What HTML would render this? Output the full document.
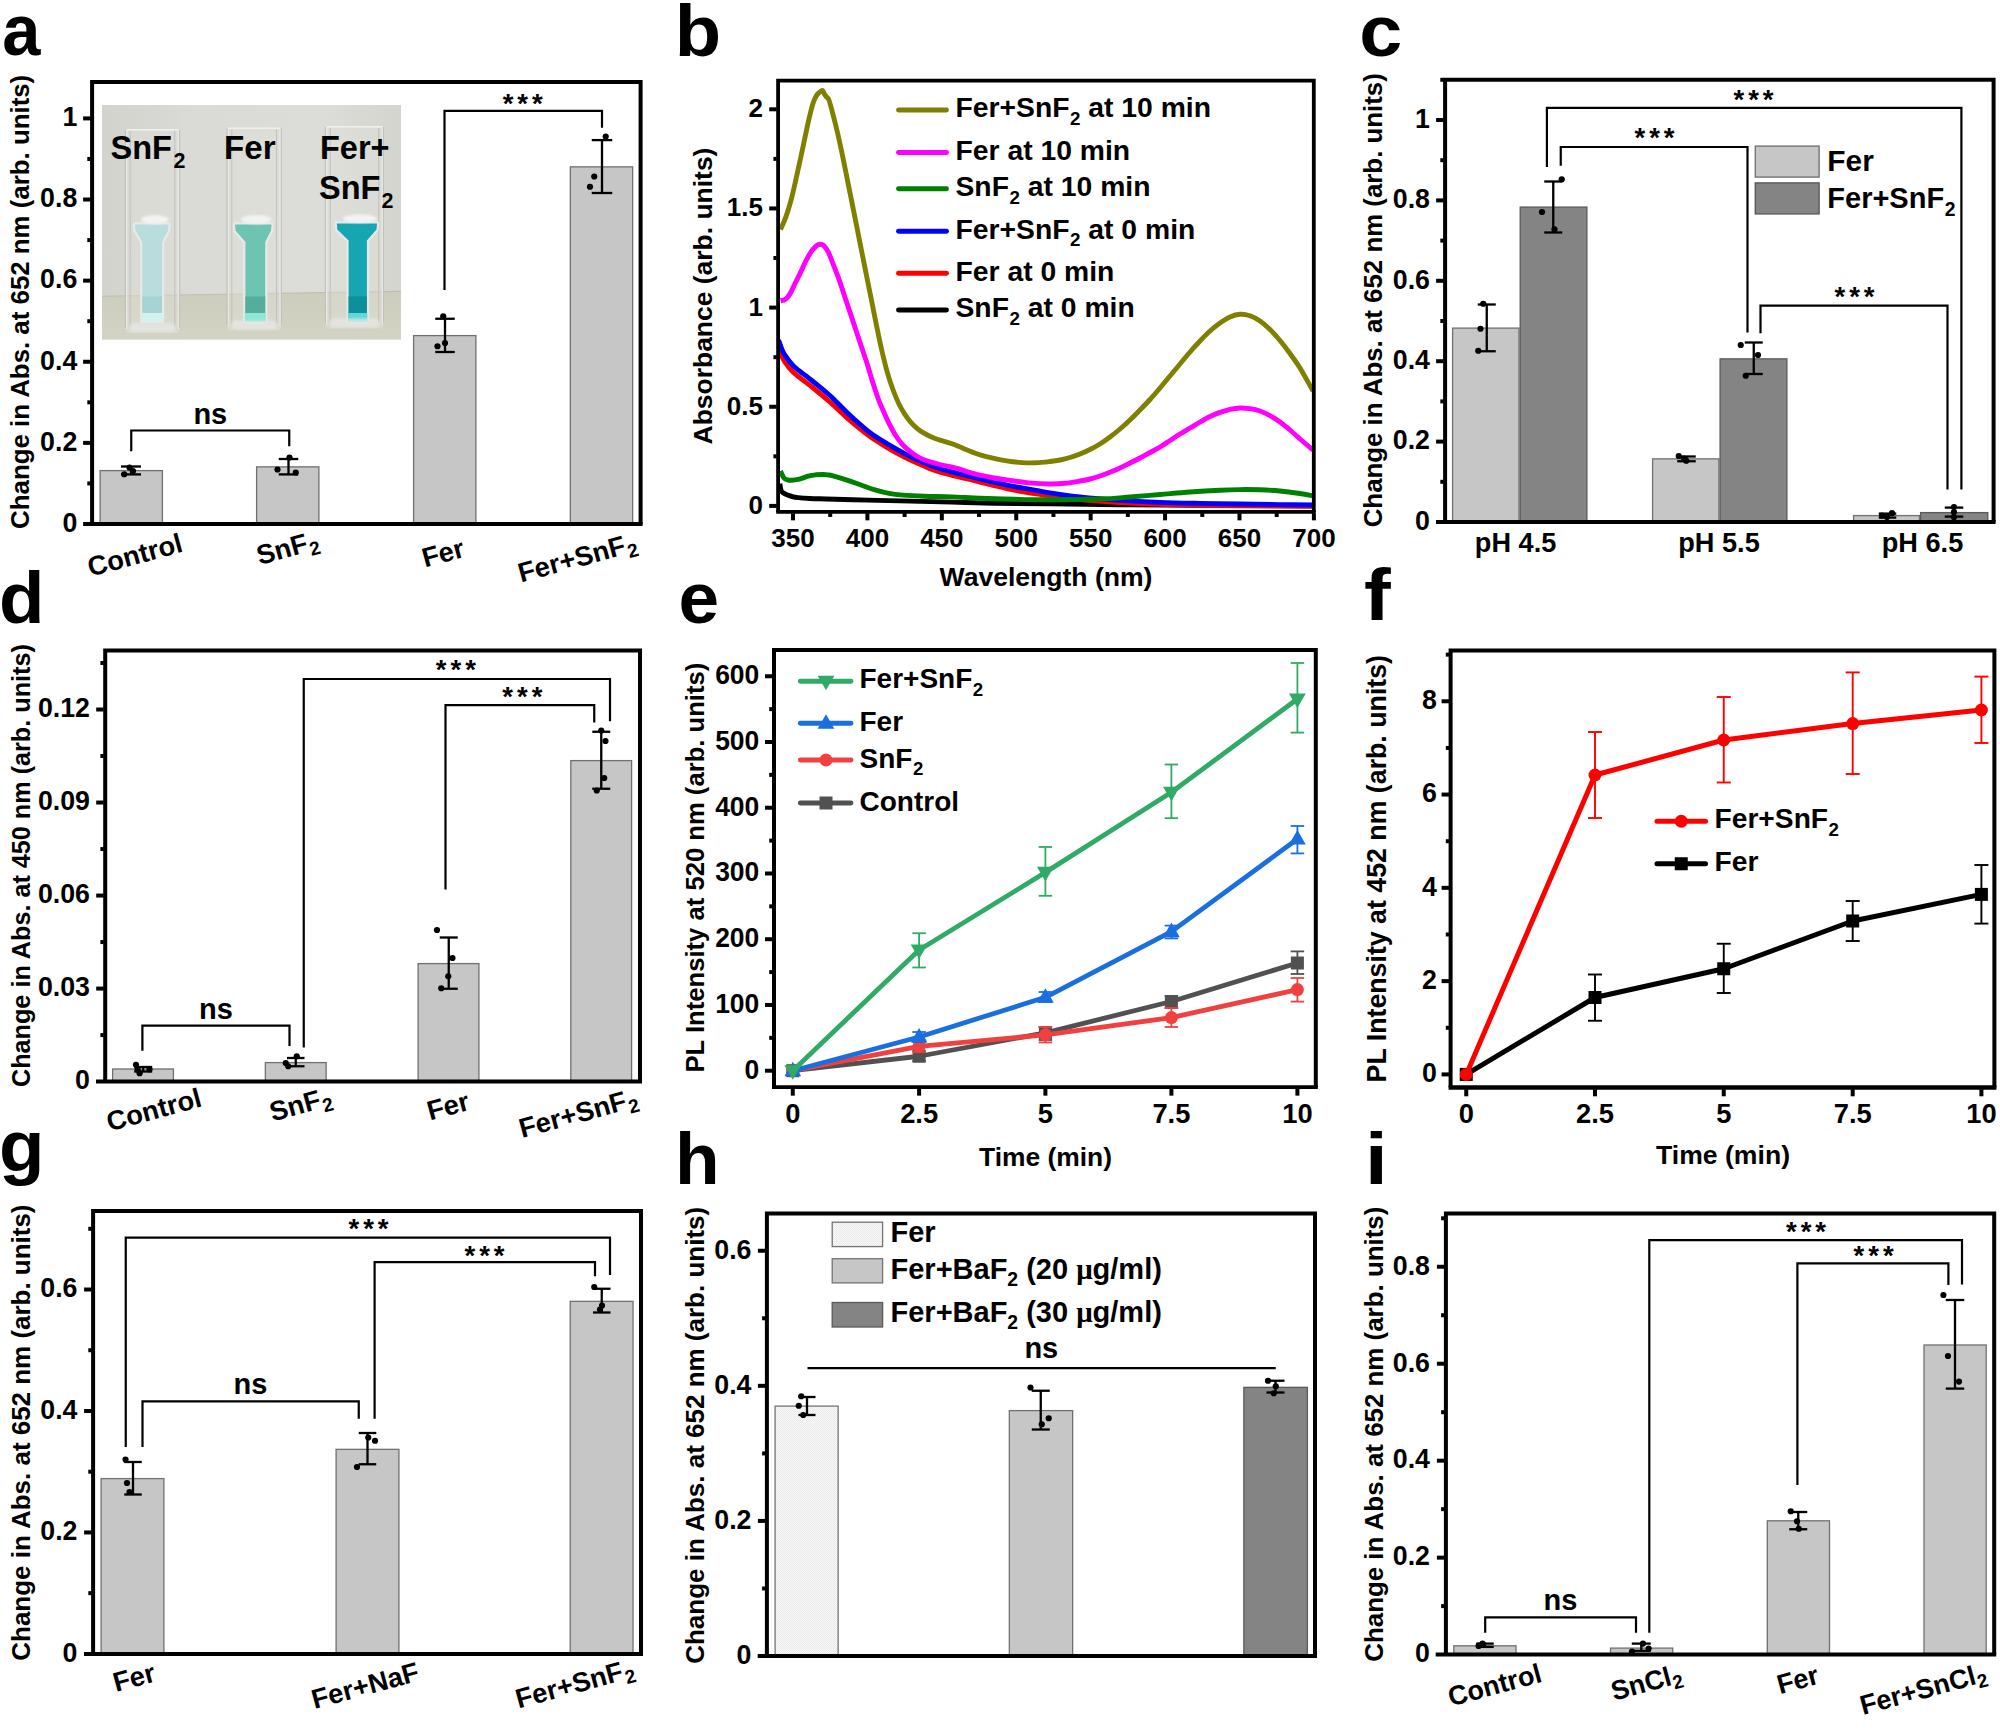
<!DOCTYPE html>
<html lang="en"><head><meta charset="utf-8"><title>Figure</title>
<style>html,body{margin:0;padding:0;background:#fff}svg{display:block}text{font-family:'Liberation Sans', sans-serif}</style>
</head><body>
<svg width="2000" height="1734" viewBox="0 0 2000 1734">
<rect width="2000" height="1734" fill="#fff"/>
<defs>
<clipPath id="pc"><rect x="102" y="105" width="299" height="234.5"/></clipPath>
<linearGradient id="wall" x1="0" y1="0" x2="1" y2="0"><stop offset="0" stop-color="#d2d3cd"/><stop offset="0.3" stop-color="#dadad6"/><stop offset="0.75" stop-color="#dcdcd8"/><stop offset="1" stop-color="#d5d5cf"/></linearGradient>
<linearGradient id="tbl" x1="0" y1="0" x2="0" y2="1"><stop offset="0" stop-color="#cdcdbc"/><stop offset="1" stop-color="#d4d4c6"/></linearGradient>
<filter id="b1" x="-20%" y="-20%" width="140%" height="140%"><feGaussianBlur stdDeviation="1.2"/></filter>
<filter id="b2" x="-20%" y="-20%" width="140%" height="140%"><feGaussianBlur stdDeviation="2.5"/></filter>
<filter id="b05" x="-20%" y="-20%" width="140%" height="140%"><feGaussianBlur stdDeviation="0.7"/></filter>
</defs>
<g clip-path="url(#pc)">
<rect x="102" y="105" width="299" height="234.5" fill="url(#wall)" stroke="none" stroke-width="1"/>
<polygon points="99,296.5 404,291.5 404,342.5 99,342.5" fill="url(#tbl)" filter="url(#b05)"/>
<line x1="99" y1="296.3" x2="404" y2="291.3" stroke="#bdbdb0" stroke-width="1.2"/>
<rect x="125.7" y="129" width="53.6" height="204" rx="3" fill="#e0e0dd" fill-opacity="0.4" filter="url(#b05)"/>
<line x1="126.5" y1="130" x2="126.5" y2="329" stroke="#e9e9e6" stroke-width="1.5"/>
<line x1="178.5" y1="130" x2="178.5" y2="329" stroke="#e9e9e6" stroke-width="1.5"/>
<line x1="130.2" y1="131" x2="130.2" y2="327" stroke="#c2c2be" stroke-width="1.1"/>
<line x1="174.8" y1="131" x2="174.8" y2="327" stroke="#c2c2be" stroke-width="1.1"/>
<line x1="125.4" y1="130" x2="125.4" y2="328" stroke="#bfbfbb" stroke-width="1.1"/>
<line x1="179.6" y1="130" x2="179.6" y2="328" stroke="#bfbfbb" stroke-width="1.1"/>
<line x1="126.7" y1="129.7" x2="178.3" y2="129.7" stroke="#f0f0ed" stroke-width="1.5"/>
<path d="M135 224.5H168.5L168 230.5L162 242V321H142.3V242L135.5 230.5Z" fill="none" stroke="#e6e9e7" stroke-width="4.5" stroke-linejoin="round" filter="url(#b05)"/>
<path d="M135 224.5H168.5L168 230.5L162 242V321H142.3V242L135.5 230.5Z" fill="#b8dddc" filter="url(#b05)"/>
<rect x="142.3" y="296.5" width="19.7" height="16.5" fill="#a6d3d3" filter="url(#b05)"/>
<rect x="141.8" y="313" width="20.7" height="9" fill="#d4f1ee" filter="url(#b05)"/>
<ellipse cx="154.75" cy="219.5" rx="13.75" ry="4.2" fill="#f3f4f1" filter="url(#b1)"/>
<rect x="129.7" y="323" width="45.6" height="9" rx="4" fill="#e6e8e3" opacity="0.75" filter="url(#b1)"/>
<rect x="227.3" y="127.6" width="53.7" height="202.9" rx="3" fill="#e0e0dd" fill-opacity="0.4" filter="url(#b05)"/>
<line x1="228.1" y1="128.6" x2="228.1" y2="326.5" stroke="#e9e9e6" stroke-width="1.5"/>
<line x1="280.2" y1="128.6" x2="280.2" y2="326.5" stroke="#e9e9e6" stroke-width="1.5"/>
<line x1="231.8" y1="129.6" x2="231.8" y2="324.5" stroke="#c2c2be" stroke-width="1.1"/>
<line x1="276.5" y1="129.6" x2="276.5" y2="324.5" stroke="#c2c2be" stroke-width="1.1"/>
<line x1="227" y1="128.6" x2="227" y2="325.5" stroke="#bfbfbb" stroke-width="1.1"/>
<line x1="281.3" y1="128.6" x2="281.3" y2="325.5" stroke="#bfbfbb" stroke-width="1.1"/>
<line x1="228.3" y1="128.3" x2="280" y2="128.3" stroke="#f0f0ed" stroke-width="1.5"/>
<path d="M235 224.5H271.5L271 230.5L265.2 242V321H245.4V242L235.5 230.5Z" fill="none" stroke="#e6e9e7" stroke-width="4.5" stroke-linejoin="round" filter="url(#b05)"/>
<path d="M235 224.5H271.5L271 230.5L265.2 242V321H245.4V242L235.5 230.5Z" fill="#6dc4b1" filter="url(#b05)"/>
<rect x="245.4" y="296.5" width="19.8" height="16.5" fill="#55ad9b" filter="url(#b05)"/>
<rect x="244.9" y="313" width="20.8" height="9" fill="#8fe6d4" filter="url(#b05)"/>
<ellipse cx="256.25" cy="219.5" rx="15.25" ry="4.2" fill="#f3f4f1" filter="url(#b1)"/>
<rect x="231.3" y="320.5" width="45.7" height="9" rx="4" fill="#e6e8e3" opacity="0.75" filter="url(#b1)"/>
<rect x="325.7" y="126" width="57.5" height="202.5" rx="3" fill="#e0e0dd" fill-opacity="0.4" filter="url(#b05)"/>
<line x1="326.5" y1="127" x2="326.5" y2="324.5" stroke="#e9e9e6" stroke-width="1.5"/>
<line x1="382.4" y1="127" x2="382.4" y2="324.5" stroke="#e9e9e6" stroke-width="1.5"/>
<line x1="330.2" y1="128" x2="330.2" y2="322.5" stroke="#c2c2be" stroke-width="1.1"/>
<line x1="378.7" y1="128" x2="378.7" y2="322.5" stroke="#c2c2be" stroke-width="1.1"/>
<line x1="325.4" y1="127" x2="325.4" y2="323.5" stroke="#bfbfbb" stroke-width="1.1"/>
<line x1="383.5" y1="127" x2="383.5" y2="323.5" stroke="#bfbfbb" stroke-width="1.1"/>
<line x1="326.7" y1="126.7" x2="382.2" y2="126.7" stroke="#f0f0ed" stroke-width="1.5"/>
<path d="M336.8 223.6H377L376.5 229.6L366.9 240.5V321H348.6V240.5L337.3 229.6Z" fill="none" stroke="#e6e9e7" stroke-width="4.5" stroke-linejoin="round" filter="url(#b05)"/>
<path d="M336.8 223.6H377L376.5 229.6L366.9 240.5V321H348.6V240.5L337.3 229.6Z" fill="#14a6b1" filter="url(#b05)"/>
<rect x="348.6" y="296.5" width="18.3" height="16.5" fill="#0b8f9c" filter="url(#b05)"/>
<rect x="348.1" y="313" width="19.3" height="9" fill="#5fd8d8" filter="url(#b05)"/>
<ellipse cx="359.9" cy="218.6" rx="17.1" ry="4.2" fill="#f3f4f1" filter="url(#b1)"/>
<rect x="329.7" y="318.5" width="49.5" height="9" rx="4" fill="#e6e8e3" opacity="0.75" filter="url(#b1)"/>
</g>
<text transform="translate(110.5,159)" font-size="32.5" text-anchor="start" font-weight="bold" fill="#000">SnF<tspan font-size="21.45" dy="8.5" dx="1.5">2</tspan></text>
<text transform="translate(224,159) scale(1.0200,1)" font-size="32.5" text-anchor="start" font-weight="bold" fill="#000">Fer</text>
<text transform="translate(320,159)" font-size="32.5" text-anchor="start" font-weight="bold" fill="#000">Fer+</text>
<text transform="translate(319,199)" font-size="32.5" text-anchor="start" font-weight="bold" fill="#000">SnF<tspan font-size="21.45" dy="8.5" dx="1">2</tspan></text>
<rect x="100.1" y="470.6" width="62.3" height="53.4" fill="#c6c6c6" stroke="#707070" stroke-width="1.3"/>
<rect x="256.6" y="466.85" width="62.3" height="57.15" fill="#c6c6c6" stroke="#707070" stroke-width="1.3"/>
<rect x="413.6" y="335.6" width="62.3" height="188.4" fill="#c6c6c6" stroke="#707070" stroke-width="1.3"/>
<rect x="570.35" y="166.85" width="62.3" height="357.15" fill="#c6c6c6" stroke="#707070" stroke-width="1.3"/>
<line x1="131" y1="466.5" x2="131" y2="474.4" stroke="#000" stroke-width="2.3" stroke-linecap="butt"/>
<line x1="121" y1="466.5" x2="141" y2="466.5" stroke="#000" stroke-width="2.3" stroke-linecap="butt"/>
<line x1="121" y1="474.4" x2="141" y2="474.4" stroke="#000" stroke-width="2.3" stroke-linecap="butt"/>
<circle cx="124.25" cy="474.25" r="3.1" fill="#000"/>
<circle cx="129.5" cy="467.5" r="3.1" fill="#000"/>
<circle cx="133" cy="471" r="3.1" fill="#000"/>
<line x1="288.5" y1="459" x2="288.5" y2="474.4" stroke="#000" stroke-width="2.3" stroke-linecap="butt"/>
<line x1="278.75" y1="459" x2="298.25" y2="459" stroke="#000" stroke-width="2.3" stroke-linecap="butt"/>
<line x1="278.75" y1="474.4" x2="298.25" y2="474.4" stroke="#000" stroke-width="2.3" stroke-linecap="butt"/>
<circle cx="289.5" cy="457.5" r="3.1" fill="#000"/>
<circle cx="277.5" cy="469.5" r="3.1" fill="#000"/>
<circle cx="295.75" cy="472.5" r="3.1" fill="#000"/>
<line x1="445" y1="318.75" x2="445" y2="352" stroke="#000" stroke-width="2.3" stroke-linecap="butt"/>
<line x1="435.25" y1="318.75" x2="454.75" y2="318.75" stroke="#000" stroke-width="2.3" stroke-linecap="butt"/>
<line x1="435.25" y1="352" x2="454.75" y2="352" stroke="#000" stroke-width="2.3" stroke-linecap="butt"/>
<circle cx="443.25" cy="316.25" r="3.1" fill="#000"/>
<circle cx="437.5" cy="346.25" r="3.1" fill="#000"/>
<circle cx="445" cy="343" r="3.1" fill="#000"/>
<line x1="602" y1="140.1" x2="602" y2="193" stroke="#000" stroke-width="2.3" stroke-linecap="butt"/>
<line x1="591.75" y1="140.1" x2="612.25" y2="140.1" stroke="#000" stroke-width="2.3" stroke-linecap="butt"/>
<line x1="591.75" y1="193" x2="612.25" y2="193" stroke="#000" stroke-width="2.3" stroke-linecap="butt"/>
<circle cx="605.7" cy="136.6" r="3.1" fill="#000"/>
<circle cx="594.25" cy="176.5" r="3.1" fill="#000"/>
<circle cx="590" cy="186.75" r="3.1" fill="#000"/>
<path d="M131.25 451.25V430.5H289.25V446.25" fill="none" stroke="#000" stroke-width="2.2" stroke-linejoin="miter" stroke-linecap="butt"/>
<text transform="translate(210.3,423.75)" font-size="29" text-anchor="middle" font-weight="bold" fill="#000">ns</text>
<path d="M444.5 290V110.9H602V127.8" fill="none" stroke="#000" stroke-width="2.2" stroke-linejoin="miter" stroke-linecap="butt"/>
<text transform="translate(524.7,112.71)" font-size="27.5" text-anchor="middle" font-weight="bold" fill="#000" letter-spacing="4">***</text>
<path d="M92.1 524V82H640.6V524" fill="none" stroke="#000" stroke-width="4" stroke-linejoin="miter" stroke-linecap="butt"/>
<line x1="83.1" y1="524" x2="642.6" y2="524" stroke="#000" stroke-width="4" stroke-linecap="butt"/>
<line x1="83.1" y1="442.88" x2="90.6" y2="442.88" stroke="#000" stroke-width="4" stroke-linecap="butt"/>
<line x1="83.1" y1="361.76" x2="90.6" y2="361.76" stroke="#000" stroke-width="4" stroke-linecap="butt"/>
<line x1="83.1" y1="280.64" x2="90.6" y2="280.64" stroke="#000" stroke-width="4" stroke-linecap="butt"/>
<line x1="83.1" y1="199.52" x2="90.6" y2="199.52" stroke="#000" stroke-width="4" stroke-linecap="butt"/>
<line x1="83.1" y1="118.4" x2="90.6" y2="118.4" stroke="#000" stroke-width="4" stroke-linecap="butt"/>
<line x1="87.3" y1="483.44" x2="90.6" y2="483.44" stroke="#000" stroke-width="4" stroke-linecap="butt"/>
<line x1="87.3" y1="402.32" x2="90.6" y2="402.32" stroke="#000" stroke-width="4" stroke-linecap="butt"/>
<line x1="87.3" y1="321.2" x2="90.6" y2="321.2" stroke="#000" stroke-width="4" stroke-linecap="butt"/>
<line x1="87.3" y1="240.08" x2="90.6" y2="240.08" stroke="#000" stroke-width="4" stroke-linecap="butt"/>
<line x1="87.3" y1="158.96" x2="90.6" y2="158.96" stroke="#000" stroke-width="4" stroke-linecap="butt"/>
<text transform="translate(77.3,531.8) scale(0.9800,1)" font-size="27.3" text-anchor="end" font-weight="bold" fill="#000">0</text>
<text transform="translate(77.3,450.68) scale(0.9800,1)" font-size="27.3" text-anchor="end" font-weight="bold" fill="#000">0.2</text>
<text transform="translate(77.3,369.56) scale(0.9800,1)" font-size="27.3" text-anchor="end" font-weight="bold" fill="#000">0.4</text>
<text transform="translate(77.3,288.44) scale(0.9800,1)" font-size="27.3" text-anchor="end" font-weight="bold" fill="#000">0.6</text>
<text transform="translate(77.3,207.32) scale(0.9800,1)" font-size="27.3" text-anchor="end" font-weight="bold" fill="#000">0.8</text>
<text transform="translate(77.3,126.2) scale(0.9800,1)" font-size="27.3" text-anchor="end" font-weight="bold" fill="#000">1</text>
<text transform="translate(29.3,301.85) rotate(-90) scale(0.9946,1)" font-size="26" text-anchor="middle" font-weight="bold" fill="#000">Change in Abs. at 652 nm (arb. units)</text>
<text transform="translate(90.5,576.8) rotate(-15.2)" font-size="27.3" text-anchor="start" font-weight="bold" fill="#000">Control</text>
<text transform="translate(259.5,565) rotate(-15.2)" font-size="27.3" text-anchor="start" font-weight="bold" fill="#000">SnF<tspan font-size="19.11" dy="5" dx="1">2</tspan></text>
<text transform="translate(425,567.5) rotate(-15.2)" font-size="27.3" text-anchor="start" font-weight="bold" fill="#000">Fer</text>
<text transform="translate(521,582.5) rotate(-15.2)" font-size="27.3" text-anchor="start" font-weight="bold" fill="#000">Fer+SnF<tspan font-size="19.11" dy="5" dx="1">2</tspan></text>
<text transform="translate(2.3,54.5) scale(0.9400,1)" font-size="73" text-anchor="start" font-weight="bold" fill="#000">a</text>
<clipPath id="cb"><rect x="778.1" y="80.6" width="535.7" height="431.3"/></clipPath>
<g clip-path="url(#cb)">
<path d="M779.8 483.6C780.03 484.77 780.58 489.03 781.2 490.6C781.82 492.17 782.57 492.3 783.5 493C784.43 493.7 785.38 494.22 786.8 494.8C788.22 495.38 790.13 496.03 792 496.5C793.87 496.97 795 497.27 798 497.6C801 497.93 805.33 498.27 810 498.5C814.67 498.73 816.33 498.73 826 499C835.67 499.27 854 499.75 868 500.1C882 500.45 896 500.77 910 501.1C924 501.43 938 501.75 952 502.1C966 502.45 977.67 502.9 994 503.2C1010.33 503.5 1029 503.63 1050 503.9C1071 504.17 1095 504.57 1120 504.8C1145 505.03 1167.83 505.13 1200 505.3C1232.17 505.47 1294.17 505.72 1313 505.8" fill="none" stroke="#000000" stroke-width="4.9" stroke-linejoin="round" stroke-linecap="butt"/>
<path d="M778.5 347.5C778.83 348.33 779.58 350.33 780.5 352.5C781.42 354.67 781.83 357.17 784 360.5C786.17 363.83 788.83 368.08 793.5 372.5C798.17 376.92 805.85 382 812 387C818.15 392 824.57 397.37 830.4 402.5C836.23 407.63 840.73 412.38 847 417.8C853.27 423.22 862.17 430.58 868 435C873.83 439.42 877.33 441.38 882 444.3C886.67 447.22 891.33 449.92 896 452.5C900.67 455.08 905.33 457.55 910 459.8C914.67 462.05 919.33 464.05 924 466C928.67 467.95 933.33 469.95 938 471.5C942.67 473.05 947.33 474.12 952 475.3C956.67 476.48 961.33 477.48 966 478.6C970.67 479.72 975.33 480.85 980 482C984.67 483.15 989.33 484.37 994 485.5C998.67 486.63 1003.33 487.8 1008 488.8C1012.67 489.8 1017.33 490.67 1022 491.5C1026.67 492.33 1031.33 493.1 1036 493.8C1040.67 494.5 1042.67 494.75 1050 495.7C1057.33 496.65 1068.33 498.37 1080 499.5C1091.67 500.63 1106.67 501.7 1120 502.5C1133.33 503.3 1146.67 503.85 1160 504.3C1173.33 504.75 1186.67 504.95 1200 505.2C1213.33 505.45 1221.17 505.62 1240 505.8C1258.83 505.98 1300.83 506.22 1313 506.3" fill="none" stroke="#ff0000" stroke-width="4.9" stroke-linejoin="round" stroke-linecap="butt"/>
<path d="M778.5 340C778.83 340.92 779.55 343.17 780.5 345.5C781.45 347.83 782.03 350.58 784.2 354C786.37 357.42 788.88 361.58 793.5 366C798.12 370.42 805.75 375.5 811.9 380.5C818.05 385.5 824.55 390.67 830.4 396C836.25 401.33 840.73 406.65 847 412.5C853.27 418.35 862.17 426.43 868 431.1C873.83 435.77 877.33 437.55 882 440.5C886.67 443.45 891.33 446.17 896 448.8C900.67 451.43 905.33 454 910 456.3C914.67 458.6 919.33 460.65 924 462.6C928.67 464.55 933.33 466.45 938 468C942.67 469.55 947.33 470.67 952 471.9C956.67 473.13 961.33 474.25 966 475.4C970.67 476.55 975.33 477.67 980 478.8C984.67 479.93 989.33 481.12 994 482.2C998.67 483.28 1003.33 484.35 1008 485.3C1012.67 486.25 1017.33 487.07 1022 487.9C1026.67 488.73 1031.33 489.48 1036 490.3C1040.67 491.12 1042.67 491.68 1050 492.8C1057.33 493.92 1068.33 495.73 1080 497C1091.67 498.27 1106.67 499.5 1120 500.4C1133.33 501.3 1146.67 501.9 1160 502.4C1173.33 502.9 1186.67 503.13 1200 503.4C1213.33 503.67 1226.67 503.8 1240 504C1253.33 504.2 1267.83 504.43 1280 504.6C1292.17 504.77 1307.5 504.93 1313 505" fill="none" stroke="#0000ff" stroke-width="4.9" stroke-linejoin="round" stroke-linecap="butt"/>
<path d="M780.5 471C781.08 472.17 782.83 476.53 784 478C785.17 479.47 786.33 479.43 787.5 479.8C788.67 480.17 789.25 480.27 791 480.2C792.75 480.13 794.97 480.12 798 479.4C801.03 478.68 806.2 476.67 809.2 475.9C812.2 475.13 813.67 475.03 816 474.8C818.33 474.57 821.2 474.48 823.2 474.5C825.2 474.52 826.37 474.67 828 474.9C829.63 475.13 829.83 475.03 833 475.9C836.17 476.77 842.33 478.58 847 480.1C851.67 481.62 856.33 483.37 861 485C865.67 486.63 870.33 488.5 875 489.9C879.67 491.3 884.33 492.53 889 493.4C893.67 494.27 897.17 494.63 903 495.1C908.83 495.57 915.83 495.9 924 496.2C932.17 496.5 942.67 496.55 952 496.9C961.33 497.25 969.5 497.9 980 498.3C990.5 498.7 1003.33 499.07 1015 499.3C1026.67 499.53 1035.83 499.75 1050 499.7C1064.17 499.65 1086.67 499.45 1100 499C1113.33 498.55 1120 497.75 1130 497C1140 496.25 1150 495.33 1160 494.5C1170 493.67 1180 492.72 1190 492C1200 491.28 1211.67 490.6 1220 490.2C1228.33 489.8 1233.33 489.67 1240 489.6C1246.67 489.53 1253.33 489.57 1260 489.8C1266.67 490.03 1273.33 490.38 1280 491C1286.67 491.62 1294.5 492.7 1300 493.5C1305.5 494.3 1310.83 495.42 1313 495.8" fill="none" stroke="#008000" stroke-width="4.9" stroke-linejoin="round" stroke-linecap="butt"/>
<path d="M780.5 300.5C781.27 300.35 783.55 300.67 785.1 299.6C786.65 298.53 788.1 296.87 789.8 294.1C791.5 291.33 793.47 286.7 795.3 283C797.13 279.3 798.95 275.75 800.8 271.9C802.65 268.05 804.55 263.43 806.4 259.9C808.25 256.37 810.22 253.07 811.9 250.7C813.58 248.33 815.12 246.78 816.5 245.7C817.88 244.62 818.97 244.2 820.2 244.2C821.43 244.2 822.52 244.32 823.9 245.7C825.28 247.08 826.82 249.05 828.5 252.5C830.18 255.95 832.15 261.63 834 266.4C835.85 271.17 837.75 275.87 839.6 281.1C841.45 286.33 843.25 292.25 845.1 297.8C846.95 303.35 848.85 308.87 850.7 314.4C852.55 319.93 854.37 325.47 856.2 331C858.03 336.53 859.85 342.07 861.7 347.6C863.55 353.13 865.45 358.37 867.3 364.2C869.15 370.03 870.97 376.8 872.8 382.6C874.63 388.4 876.77 394.77 878.3 399C879.83 403.23 880.22 403.93 882 408C883.78 412.07 886.67 418.73 889 423.4C891.33 428.07 893.67 432.38 896 436C898.33 439.62 900.67 442.53 903 445.1C905.33 447.67 907.67 449.53 910 451.4C912.33 453.27 914.67 454.9 917 456.3C919.33 457.7 920.5 458.52 924 459.8C927.5 461.08 933.33 462.78 938 464C942.67 465.22 948.5 466.28 952 467.1C955.5 467.92 956.67 468.2 959 468.9C961.33 469.6 962.5 470.25 966 471.3C969.5 472.35 975.33 474.08 980 475.2C984.67 476.32 989.33 477.18 994 478C998.67 478.82 1002.17 479.28 1008 480.1C1013.83 480.92 1022 482.25 1029 482.9C1036 483.55 1044 483.93 1050 484C1056 484.07 1060 483.8 1065 483.3C1070 482.8 1075.83 481.72 1080 481C1084.17 480.28 1086.67 479.83 1090 479C1093.33 478.17 1096.67 477.12 1100 476C1103.33 474.88 1106.67 473.63 1110 472.3C1113.33 470.97 1116.67 469.55 1120 468C1123.33 466.45 1126.67 464.67 1130 463C1133.33 461.33 1136.67 459.75 1140 458C1143.33 456.25 1146.67 454.33 1150 452.5C1153.33 450.67 1156.67 449 1160 447C1163.33 445 1166.67 442.67 1170 440.5C1173.33 438.33 1176.67 436.08 1180 434C1183.33 431.92 1186.67 430 1190 428C1193.33 426 1196.67 423.92 1200 422C1203.33 420.08 1206.67 418.1 1210 416.5C1213.33 414.9 1216.67 413.6 1220 412.4C1223.33 411.2 1226.67 410.03 1230 409.3C1233.33 408.57 1236.67 408.1 1240 408C1243.33 407.9 1246.67 408.2 1250 408.7C1253.33 409.2 1256.67 409.83 1260 411C1263.33 412.17 1266.67 413.87 1270 415.7C1273.33 417.53 1276.67 419.62 1280 422C1283.33 424.38 1286.67 427.17 1290 430C1293.33 432.83 1296.17 435.67 1300 439C1303.83 442.33 1310.83 448.17 1313 450" fill="none" stroke="#ff00ff" stroke-width="4.9" stroke-linejoin="round" stroke-linecap="butt"/>
<path d="M780.5 229.5C781.42 227.35 784.15 221.83 786 216.6C787.85 211.37 789.75 205.18 791.6 198.1C793.45 191.02 795.25 182.4 797.1 174.1C798.95 165.8 800.85 156.92 802.7 148.3C804.55 139.68 806.52 129.78 808.2 122.4C809.88 115.02 811.42 108.48 812.8 104C814.18 99.52 815.38 97.45 816.5 95.5C817.62 93.55 818.48 93.13 819.5 92.3C820.52 91.47 821.75 90.13 822.6 90.5C823.45 90.87 823.9 93.38 824.6 94.5C825.3 95.62 826.08 96.28 826.8 97.2C827.52 98.12 828 97.63 828.9 100C829.8 102.37 830.73 105.82 832.2 111.4C833.67 116.98 835.85 125.5 837.7 133.5C839.55 141.5 841.45 150.48 843.3 159.4C845.15 168.32 846.95 177.78 848.8 187C850.65 196.22 852.55 205.47 854.4 214.7C856.25 223.93 858.07 233.17 859.9 242.4C861.73 251.63 863.55 260.87 865.4 270.1C867.25 279.33 869.15 288.58 871 297.8C872.85 307.02 874.67 316.48 876.5 325.4C878.33 334.32 880.15 343.3 882 351.3C883.85 359.3 885.75 366.95 887.6 373.4C889.45 379.85 891.23 384.93 893.1 390C894.97 395.07 896.92 399.87 898.8 403.8C900.68 407.73 902.53 410.68 904.4 413.6C906.27 416.52 907.9 418.85 910 421.3C912.1 423.75 914.67 426.32 917 428.3C919.33 430.28 921.67 431.8 924 433.2C926.33 434.6 928.67 435.65 931 436.7C933.33 437.75 935.67 438.68 938 439.5C940.33 440.32 942.67 440.9 945 441.6C947.33 442.3 949.67 442.88 952 443.7C954.33 444.52 956.67 445.52 959 446.5C961.33 447.48 963.67 448.62 966 449.6C968.33 450.58 970.67 451.52 973 452.4C975.33 453.28 976.5 453.9 980 454.9C983.5 455.9 989.33 457.35 994 458.4C998.67 459.45 1003.33 460.5 1008 461.2C1012.67 461.9 1017.33 462.33 1022 462.6C1026.67 462.87 1031.33 462.98 1036 462.8C1040.67 462.62 1046 461.97 1050 461.5C1054 461.03 1056.67 460.67 1060 460C1063.33 459.33 1066.67 458.5 1070 457.5C1073.33 456.5 1076.67 455.33 1080 454C1083.33 452.67 1086.67 451.17 1090 449.5C1093.33 447.83 1096.67 446.08 1100 444C1103.33 441.92 1106.67 439.5 1110 437C1113.33 434.5 1116.67 431.83 1120 429C1123.33 426.17 1126.67 423.17 1130 420C1133.33 416.83 1136.67 413.42 1140 410C1143.33 406.58 1146.67 403.17 1150 399.5C1153.33 395.83 1156.67 391.92 1160 388C1163.33 384.08 1166.67 380 1170 376C1173.33 372 1176.67 368 1180 364C1183.33 360 1186.67 355.83 1190 352C1193.33 348.17 1196.67 344.5 1200 341C1203.33 337.5 1206.67 334 1210 331C1213.33 328 1216.67 325.33 1220 323C1223.33 320.67 1226.67 318.45 1230 317C1233.33 315.55 1236.67 314.5 1240 314.3C1243.33 314.1 1246.67 314.68 1250 315.8C1253.33 316.92 1256.67 318.72 1260 321C1263.33 323.28 1266.67 326.25 1270 329.5C1273.33 332.75 1276.67 336.5 1280 340.5C1283.33 344.5 1286.67 348.92 1290 353.5C1293.33 358.08 1296.17 361.75 1300 368C1303.83 374.25 1310.83 387.17 1313 391" fill="none" stroke="#808000" stroke-width="4.9" stroke-linejoin="round" stroke-linecap="butt"/>
</g>
<path d="M778.1 511.9V80.6H1313.8V511.9" fill="none" stroke="#000" stroke-width="3.8" stroke-linejoin="miter" stroke-linecap="butt"/>
<line x1="776.2" y1="511.9" x2="1315.7" y2="511.9" stroke="#000" stroke-width="3.8" stroke-linecap="butt"/>
<line x1="769.2" y1="505.9" x2="776.7" y2="505.9" stroke="#000" stroke-width="4" stroke-linecap="butt"/>
<line x1="769.2" y1="406.75" x2="776.7" y2="406.75" stroke="#000" stroke-width="4" stroke-linecap="butt"/>
<line x1="769.2" y1="307.6" x2="776.7" y2="307.6" stroke="#000" stroke-width="4" stroke-linecap="butt"/>
<line x1="769.2" y1="208.45" x2="776.7" y2="208.45" stroke="#000" stroke-width="4" stroke-linecap="butt"/>
<line x1="769.2" y1="109.3" x2="776.7" y2="109.3" stroke="#000" stroke-width="4" stroke-linecap="butt"/>
<line x1="773.4" y1="456.32" x2="776.7" y2="456.32" stroke="#000" stroke-width="4" stroke-linecap="butt"/>
<line x1="773.4" y1="357.17" x2="776.7" y2="357.17" stroke="#000" stroke-width="4" stroke-linecap="butt"/>
<line x1="773.4" y1="258.02" x2="776.7" y2="258.02" stroke="#000" stroke-width="4" stroke-linecap="butt"/>
<line x1="773.4" y1="158.87" x2="776.7" y2="158.87" stroke="#000" stroke-width="4" stroke-linecap="butt"/>
<text transform="translate(763,513.9)" font-size="26" text-anchor="end" font-weight="bold" fill="#000">0</text>
<text transform="translate(763,414.75)" font-size="26" text-anchor="end" font-weight="bold" fill="#000">0.5</text>
<text transform="translate(763,315.6)" font-size="26" text-anchor="end" font-weight="bold" fill="#000">1</text>
<text transform="translate(763,216.45)" font-size="26" text-anchor="end" font-weight="bold" fill="#000">1.5</text>
<text transform="translate(763,117.3)" font-size="26" text-anchor="end" font-weight="bold" fill="#000">2</text>
<line x1="793" y1="513.25" x2="793" y2="520.35" stroke="#000" stroke-width="4" stroke-linecap="butt"/>
<line x1="867.41" y1="513.25" x2="867.41" y2="520.35" stroke="#000" stroke-width="4" stroke-linecap="butt"/>
<line x1="941.83" y1="513.25" x2="941.83" y2="520.35" stroke="#000" stroke-width="4" stroke-linecap="butt"/>
<line x1="1016.25" y1="513.25" x2="1016.25" y2="520.35" stroke="#000" stroke-width="4" stroke-linecap="butt"/>
<line x1="1090.66" y1="513.25" x2="1090.66" y2="520.35" stroke="#000" stroke-width="4" stroke-linecap="butt"/>
<line x1="1165.08" y1="513.25" x2="1165.08" y2="520.35" stroke="#000" stroke-width="4" stroke-linecap="butt"/>
<line x1="1239.49" y1="513.25" x2="1239.49" y2="520.35" stroke="#000" stroke-width="4" stroke-linecap="butt"/>
<line x1="1313.9" y1="513.25" x2="1313.9" y2="520.35" stroke="#000" stroke-width="4" stroke-linecap="butt"/>
<line x1="830.21" y1="513.25" x2="830.21" y2="516.95" stroke="#000" stroke-width="4" stroke-linecap="butt"/>
<line x1="904.62" y1="513.25" x2="904.62" y2="516.95" stroke="#000" stroke-width="4" stroke-linecap="butt"/>
<line x1="979.04" y1="513.25" x2="979.04" y2="516.95" stroke="#000" stroke-width="4" stroke-linecap="butt"/>
<line x1="1053.45" y1="513.25" x2="1053.45" y2="516.95" stroke="#000" stroke-width="4" stroke-linecap="butt"/>
<line x1="1127.87" y1="513.25" x2="1127.87" y2="516.95" stroke="#000" stroke-width="4" stroke-linecap="butt"/>
<line x1="1202.28" y1="513.25" x2="1202.28" y2="516.95" stroke="#000" stroke-width="4" stroke-linecap="butt"/>
<line x1="1276.7" y1="513.25" x2="1276.7" y2="516.95" stroke="#000" stroke-width="4" stroke-linecap="butt"/>
<text transform="translate(793,547)" font-size="26" text-anchor="middle" font-weight="bold" fill="#000">350</text>
<text transform="translate(867.41,547)" font-size="26" text-anchor="middle" font-weight="bold" fill="#000">400</text>
<text transform="translate(941.83,547)" font-size="26" text-anchor="middle" font-weight="bold" fill="#000">450</text>
<text transform="translate(1016.25,547)" font-size="26" text-anchor="middle" font-weight="bold" fill="#000">500</text>
<text transform="translate(1090.66,547)" font-size="26" text-anchor="middle" font-weight="bold" fill="#000">550</text>
<text transform="translate(1165.08,547)" font-size="26" text-anchor="middle" font-weight="bold" fill="#000">600</text>
<text transform="translate(1239.49,547)" font-size="26" text-anchor="middle" font-weight="bold" fill="#000">650</text>
<text transform="translate(1313.9,547)" font-size="26" text-anchor="middle" font-weight="bold" fill="#000">700</text>
<text transform="translate(1046,586) scale(1.0217,1)" font-size="26" text-anchor="middle" font-weight="bold" fill="#000">Wavelength (nm)</text>
<text transform="translate(712.3,296) rotate(-90) scale(1.0177,1)" font-size="26" text-anchor="middle" font-weight="bold" fill="#000">Absorbance (arb. units)</text>
<line x1="898.5" y1="110" x2="946.5" y2="110" stroke="#808000" stroke-width="4.9" stroke-linecap="round"/>
<text transform="translate(955.5,117.3)" font-size="28.3" text-anchor="start" font-weight="bold" fill="#000">Fer+SnF<tspan font-size="18.82" dy="7.5" dx="0.5">2</tspan><tspan dy="-7.5"> at 10 min</tspan></text>
<line x1="898.5" y1="152.5" x2="946.5" y2="152.5" stroke="#ff00ff" stroke-width="4.9" stroke-linecap="round"/>
<text transform="translate(955.5,159.8)" font-size="28.3" text-anchor="start" font-weight="bold" fill="#000">Fer at 10 min</text>
<line x1="898.5" y1="188.75" x2="946.5" y2="188.75" stroke="#008000" stroke-width="4.9" stroke-linecap="round"/>
<text transform="translate(955.5,196)" font-size="28.3" text-anchor="start" font-weight="bold" fill="#000">SnF<tspan font-size="18.82" dy="7.5" dx="0.5">2</tspan><tspan dy="-7.5"> at 10 min</tspan></text>
<line x1="898.5" y1="231.25" x2="946.5" y2="231.25" stroke="#0000ff" stroke-width="4.9" stroke-linecap="round"/>
<text transform="translate(955.5,238.5)" font-size="28.3" text-anchor="start" font-weight="bold" fill="#000">Fer+SnF<tspan font-size="18.82" dy="7.5" dx="0.5">2</tspan><tspan dy="-7.5"> at 0 min</tspan></text>
<line x1="898.5" y1="273.25" x2="946.5" y2="273.25" stroke="#ff0000" stroke-width="4.9" stroke-linecap="round"/>
<text transform="translate(955.5,280.5)" font-size="28.3" text-anchor="start" font-weight="bold" fill="#000">Fer at 0 min</text>
<line x1="898.5" y1="310" x2="946.5" y2="310" stroke="#000000" stroke-width="4.9" stroke-linecap="round"/>
<text transform="translate(955.5,317.3)" font-size="28.3" text-anchor="start" font-weight="bold" fill="#000">SnF<tspan font-size="18.82" dy="7.5" dx="0.5">2</tspan><tspan dy="-7.5"> at 0 min</tspan></text>
<text transform="translate(674.8,55.5) scale(1.0400,1)" font-size="73" text-anchor="start" font-weight="bold" fill="#000">b</text>
<rect x="1452.6" y="328.1" width="66.4" height="193.9" fill="#c6c6c6" stroke="#707070" stroke-width="1.3"/>
<rect x="1520.2" y="207.1" width="66.7" height="314.9" fill="#848484" stroke="#5a5a5a" stroke-width="1.3"/>
<rect x="1652.6" y="458.85" width="66.3" height="63.15" fill="#c6c6c6" stroke="#707070" stroke-width="1.3"/>
<rect x="1720.1" y="358.85" width="66.8" height="163.15" fill="#848484" stroke="#5a5a5a" stroke-width="1.3"/>
<rect x="1853.6" y="515.6" width="65.8" height="6.4" fill="#c6c6c6" stroke="#707070" stroke-width="1.3"/>
<rect x="1920.6" y="512.6" width="67.2" height="9.4" fill="#848484" stroke="#5a5a5a" stroke-width="1.3"/>
<line x1="1486.75" y1="304.5" x2="1486.75" y2="351.25" stroke="#000" stroke-width="2.3" stroke-linecap="butt"/>
<line x1="1477.75" y1="304.5" x2="1495.75" y2="304.5" stroke="#000" stroke-width="2.3" stroke-linecap="butt"/>
<line x1="1477.75" y1="351.25" x2="1495.75" y2="351.25" stroke="#000" stroke-width="2.3" stroke-linecap="butt"/>
<circle cx="1483.25" cy="303.75" r="3.1" fill="#000"/>
<circle cx="1480.5" cy="328.75" r="3.1" fill="#000"/>
<circle cx="1478.25" cy="350.75" r="3.1" fill="#000"/>
<line x1="1553.25" y1="181.5" x2="1553.25" y2="232.5" stroke="#000" stroke-width="2.3" stroke-linecap="butt"/>
<line x1="1544.25" y1="181.5" x2="1562.25" y2="181.5" stroke="#000" stroke-width="2.3" stroke-linecap="butt"/>
<line x1="1544.25" y1="232.5" x2="1562.25" y2="232.5" stroke="#000" stroke-width="2.3" stroke-linecap="butt"/>
<circle cx="1561.75" cy="179.25" r="3.1" fill="#000"/>
<circle cx="1542" cy="212" r="3.1" fill="#000"/>
<circle cx="1554.5" cy="229.25" r="3.1" fill="#000"/>
<line x1="1686.5" y1="456.5" x2="1686.5" y2="461.25" stroke="#000" stroke-width="2.3" stroke-linecap="butt"/>
<line x1="1677.25" y1="456.5" x2="1695.75" y2="456.5" stroke="#000" stroke-width="2.3" stroke-linecap="butt"/>
<line x1="1677.25" y1="461.25" x2="1695.75" y2="461.25" stroke="#000" stroke-width="2.3" stroke-linecap="butt"/>
<circle cx="1678.75" cy="456" r="3.1" fill="#000"/>
<circle cx="1686.25" cy="460.75" r="3.1" fill="#000"/>
<circle cx="1684" cy="458.5" r="3.1" fill="#000"/>
<line x1="1753.75" y1="342.5" x2="1753.75" y2="374" stroke="#000" stroke-width="2.3" stroke-linecap="butt"/>
<line x1="1744.75" y1="342.5" x2="1762.75" y2="342.5" stroke="#000" stroke-width="2.3" stroke-linecap="butt"/>
<line x1="1744.75" y1="374" x2="1762.75" y2="374" stroke="#000" stroke-width="2.3" stroke-linecap="butt"/>
<circle cx="1740.75" cy="345" r="3.1" fill="#000"/>
<circle cx="1758" cy="355" r="3.1" fill="#000"/>
<circle cx="1745.75" cy="375.75" r="3.1" fill="#000"/>
<line x1="1887.5" y1="513.6" x2="1887.5" y2="517.6" stroke="#000" stroke-width="2.3" stroke-linecap="butt"/>
<line x1="1878.75" y1="513.6" x2="1896.25" y2="513.6" stroke="#000" stroke-width="2.3" stroke-linecap="butt"/>
<line x1="1878.75" y1="517.6" x2="1896.25" y2="517.6" stroke="#000" stroke-width="2.3" stroke-linecap="butt"/>
<circle cx="1892" cy="513.2" r="3.1" fill="#000"/>
<circle cx="1887" cy="517" r="3.1" fill="#000"/>
<circle cx="1882" cy="515.6" r="3.1" fill="#000"/>
<line x1="1954" y1="507.6" x2="1954" y2="516.6" stroke="#000" stroke-width="2.3" stroke-linecap="butt"/>
<line x1="1944.75" y1="507.6" x2="1963.25" y2="507.6" stroke="#000" stroke-width="2.3" stroke-linecap="butt"/>
<line x1="1944.75" y1="516.6" x2="1963.25" y2="516.6" stroke="#000" stroke-width="2.3" stroke-linecap="butt"/>
<circle cx="1954" cy="507" r="3.1" fill="#000"/>
<circle cx="1954" cy="512" r="3.1" fill="#000"/>
<circle cx="1954" cy="517" r="3.1" fill="#000"/>
<path d="M1546.9 167V107.8H1961.4V489.4" fill="none" stroke="#000" stroke-width="2.2" stroke-linejoin="miter" stroke-linecap="butt"/>
<text transform="translate(1755.5,108.51)" font-size="27.5" text-anchor="middle" font-weight="bold" fill="#000" letter-spacing="4">***</text>
<path d="M1560.75 165.75V147H1747.5V332.5" fill="none" stroke="#000" stroke-width="2.2" stroke-linejoin="miter" stroke-linecap="butt"/>
<text transform="translate(1656.5,147.21)" font-size="27.5" text-anchor="middle" font-weight="bold" fill="#000" letter-spacing="4">***</text>
<path d="M1760.5 333.25V305.7H1947.5V489.4" fill="none" stroke="#000" stroke-width="2.2" stroke-linejoin="miter" stroke-linecap="butt"/>
<text transform="translate(1856.5,305.71)" font-size="27.5" text-anchor="middle" font-weight="bold" fill="#000" letter-spacing="4">***</text>
<rect x="1755.3" y="146.1" width="63.8" height="31" fill="#c6c6c6" stroke="#747474" stroke-width="1.4"/>
<rect x="1755.3" y="182.9" width="63.8" height="31" fill="#848484" stroke="#5a5a5a" stroke-width="1.4"/>
<text transform="translate(1827.3,171.4) scale(1.0300,1)" font-size="29" text-anchor="start" font-weight="bold" fill="#000">Fer</text>
<text transform="translate(1827.3,208)" font-size="29" text-anchor="start" font-weight="bold" fill="#000">Fer+SnF<tspan font-size="19.29" dy="7.8" dx="0.5">2</tspan></text>
<path d="M1445.1 522V79.75H1993.6V522" fill="none" stroke="#000" stroke-width="4" stroke-linejoin="miter" stroke-linecap="butt"/>
<line x1="1436" y1="522" x2="1995.6" y2="522" stroke="#000" stroke-width="4" stroke-linecap="butt"/>
<line x1="1436.1" y1="441.6" x2="1443.6" y2="441.6" stroke="#000" stroke-width="4" stroke-linecap="butt"/>
<line x1="1436.1" y1="361.2" x2="1443.6" y2="361.2" stroke="#000" stroke-width="4" stroke-linecap="butt"/>
<line x1="1436.1" y1="280.8" x2="1443.6" y2="280.8" stroke="#000" stroke-width="4" stroke-linecap="butt"/>
<line x1="1436.1" y1="200.4" x2="1443.6" y2="200.4" stroke="#000" stroke-width="4" stroke-linecap="butt"/>
<line x1="1436.1" y1="120" x2="1443.6" y2="120" stroke="#000" stroke-width="4" stroke-linecap="butt"/>
<line x1="1440.3" y1="481.8" x2="1443.6" y2="481.8" stroke="#000" stroke-width="4" stroke-linecap="butt"/>
<line x1="1440.3" y1="401.4" x2="1443.6" y2="401.4" stroke="#000" stroke-width="4" stroke-linecap="butt"/>
<line x1="1440.3" y1="321" x2="1443.6" y2="321" stroke="#000" stroke-width="4" stroke-linecap="butt"/>
<line x1="1440.3" y1="240.6" x2="1443.6" y2="240.6" stroke="#000" stroke-width="4" stroke-linecap="butt"/>
<line x1="1440.3" y1="160.2" x2="1443.6" y2="160.2" stroke="#000" stroke-width="4" stroke-linecap="butt"/>
<line x1="1440.3" y1="79.8" x2="1443.6" y2="79.8" stroke="#000" stroke-width="4" stroke-linecap="butt"/>
<text transform="translate(1430,529.8) scale(0.9800,1)" font-size="27.3" text-anchor="end" font-weight="bold" fill="#000">0</text>
<text transform="translate(1430,449.4) scale(0.9800,1)" font-size="27.3" text-anchor="end" font-weight="bold" fill="#000">0.2</text>
<text transform="translate(1430,369) scale(0.9800,1)" font-size="27.3" text-anchor="end" font-weight="bold" fill="#000">0.4</text>
<text transform="translate(1430,288.6) scale(0.9800,1)" font-size="27.3" text-anchor="end" font-weight="bold" fill="#000">0.6</text>
<text transform="translate(1430,208.2) scale(0.9800,1)" font-size="27.3" text-anchor="end" font-weight="bold" fill="#000">0.8</text>
<text transform="translate(1430,127.8) scale(0.9800,1)" font-size="27.3" text-anchor="end" font-weight="bold" fill="#000">1</text>
<text transform="translate(1382.3,300.25) rotate(-90) scale(0.9946,1)" font-size="26" text-anchor="middle" font-weight="bold" fill="#000">Change in Abs. at 652 nm (arb. units)</text>
<text transform="translate(1515.6,551.6) scale(1.0058,1)" font-size="27" text-anchor="middle" font-weight="bold" fill="#000">pH 4.5</text>
<text transform="translate(1719,551.6) scale(1.0058,1)" font-size="27" text-anchor="middle" font-weight="bold" fill="#000">pH 5.5</text>
<text transform="translate(1922.5,551.6) scale(1.0058,1)" font-size="27" text-anchor="middle" font-weight="bold" fill="#000">pH 6.5</text>
<text transform="translate(1359.3,56) scale(1.0600,1)" font-size="73" text-anchor="start" font-weight="bold" fill="#000">c</text>
<rect x="112.6" y="1069" width="60.8" height="12.6" fill="#c6c6c6" stroke="#707070" stroke-width="1.3"/>
<rect x="265.35" y="1062.6" width="60.8" height="19" fill="#c6c6c6" stroke="#707070" stroke-width="1.3"/>
<rect x="418.1" y="963.6" width="60.8" height="118" fill="#c6c6c6" stroke="#707070" stroke-width="1.3"/>
<rect x="570.8" y="760.6" width="60.8" height="321" fill="#c6c6c6" stroke="#707070" stroke-width="1.3"/>
<line x1="143.2" y1="1067" x2="143.2" y2="1071.5" stroke="#000" stroke-width="2.3" stroke-linecap="butt"/>
<line x1="134.2" y1="1067" x2="152.2" y2="1067" stroke="#000" stroke-width="2.3" stroke-linecap="butt"/>
<line x1="134.2" y1="1071.5" x2="152.2" y2="1071.5" stroke="#000" stroke-width="2.3" stroke-linecap="butt"/>
<circle cx="136" cy="1064.8" r="3.1" fill="#000"/>
<circle cx="137.6" cy="1069.6" r="3.1" fill="#000"/>
<circle cx="139.6" cy="1073.2" r="3.1" fill="#000"/>
<circle cx="149.5" cy="1069.3" r="3.1" fill="#000"/>
<line x1="295.75" y1="1058" x2="295.75" y2="1066.25" stroke="#000" stroke-width="2.3" stroke-linecap="butt"/>
<line x1="287" y1="1058" x2="304.5" y2="1058" stroke="#000" stroke-width="2.3" stroke-linecap="butt"/>
<line x1="287" y1="1066.25" x2="304.5" y2="1066.25" stroke="#000" stroke-width="2.3" stroke-linecap="butt"/>
<circle cx="296.75" cy="1056.25" r="3.1" fill="#000"/>
<circle cx="285.75" cy="1063" r="3.1" fill="#000"/>
<circle cx="288.25" cy="1066.25" r="3.1" fill="#000"/>
<line x1="448.75" y1="937.5" x2="448.75" y2="988.75" stroke="#000" stroke-width="2.3" stroke-linecap="butt"/>
<line x1="439.75" y1="937.5" x2="457.75" y2="937.5" stroke="#000" stroke-width="2.3" stroke-linecap="butt"/>
<line x1="439.75" y1="988.75" x2="457.75" y2="988.75" stroke="#000" stroke-width="2.3" stroke-linecap="butt"/>
<circle cx="437" cy="930" r="3.1" fill="#000"/>
<circle cx="452.5" cy="958" r="3.1" fill="#000"/>
<circle cx="448.25" cy="976.25" r="3.1" fill="#000"/>
<circle cx="441.25" cy="988.25" r="3.1" fill="#000"/>
<line x1="601.25" y1="731.75" x2="601.25" y2="788.75" stroke="#000" stroke-width="2.3" stroke-linecap="butt"/>
<line x1="592.25" y1="731.75" x2="610.25" y2="731.75" stroke="#000" stroke-width="2.3" stroke-linecap="butt"/>
<line x1="592.25" y1="788.75" x2="610.25" y2="788.75" stroke="#000" stroke-width="2.3" stroke-linecap="butt"/>
<circle cx="601.25" cy="730.5" r="3.1" fill="#000"/>
<circle cx="605.5" cy="741" r="3.1" fill="#000"/>
<circle cx="604.25" cy="778" r="3.1" fill="#000"/>
<circle cx="596.75" cy="790.5" r="3.1" fill="#000"/>
<path d="M142.4 1050.8V1025.7H289.5V1046" fill="none" stroke="#000" stroke-width="2.2" stroke-linejoin="miter" stroke-linecap="butt"/>
<text transform="translate(216,1019.3)" font-size="29" text-anchor="middle" font-weight="bold" fill="#000">ns</text>
<path d="M303.75 1047.5V679H610V721.25" fill="none" stroke="#000" stroke-width="2.2" stroke-linejoin="miter" stroke-linecap="butt"/>
<text transform="translate(457.8,678.71)" font-size="27.5" text-anchor="middle" font-weight="bold" fill="#000" letter-spacing="4">***</text>
<path d="M445.5 889.5V705.2H594.25V722.5" fill="none" stroke="#000" stroke-width="2.2" stroke-linejoin="miter" stroke-linecap="butt"/>
<text transform="translate(524.3,705.71)" font-size="27.5" text-anchor="middle" font-weight="bold" fill="#000" letter-spacing="4">***</text>
<path d="M105.2 1081.6V650.6H640V1081.6" fill="none" stroke="#000" stroke-width="4" stroke-linejoin="miter" stroke-linecap="butt"/>
<line x1="96" y1="1081.6" x2="642" y2="1081.6" stroke="#000" stroke-width="4" stroke-linecap="butt"/>
<line x1="96.2" y1="988.58" x2="103.7" y2="988.58" stroke="#000" stroke-width="4" stroke-linecap="butt"/>
<line x1="96.2" y1="895.55" x2="103.7" y2="895.55" stroke="#000" stroke-width="4" stroke-linecap="butt"/>
<line x1="96.2" y1="802.53" x2="103.7" y2="802.53" stroke="#000" stroke-width="4" stroke-linecap="butt"/>
<line x1="96.2" y1="709.5" x2="103.7" y2="709.5" stroke="#000" stroke-width="4" stroke-linecap="butt"/>
<line x1="100.4" y1="1035.09" x2="103.7" y2="1035.09" stroke="#000" stroke-width="4" stroke-linecap="butt"/>
<line x1="100.4" y1="942.06" x2="103.7" y2="942.06" stroke="#000" stroke-width="4" stroke-linecap="butt"/>
<line x1="100.4" y1="849.04" x2="103.7" y2="849.04" stroke="#000" stroke-width="4" stroke-linecap="butt"/>
<line x1="100.4" y1="756.02" x2="103.7" y2="756.02" stroke="#000" stroke-width="4" stroke-linecap="butt"/>
<line x1="100.4" y1="662.99" x2="103.7" y2="662.99" stroke="#000" stroke-width="4" stroke-linecap="butt"/>
<text transform="translate(90,1089.4) scale(0.9800,1)" font-size="27.3" text-anchor="end" font-weight="bold" fill="#000">0</text>
<text transform="translate(90,996.38) scale(0.9800,1)" font-size="27.3" text-anchor="end" font-weight="bold" fill="#000">0.03</text>
<text transform="translate(90,903.35) scale(0.9800,1)" font-size="27.3" text-anchor="end" font-weight="bold" fill="#000">0.06</text>
<text transform="translate(90,810.33) scale(0.9800,1)" font-size="27.3" text-anchor="end" font-weight="bold" fill="#000">0.09</text>
<text transform="translate(90,717.3) scale(0.9800,1)" font-size="27.3" text-anchor="end" font-weight="bold" fill="#000">0.12</text>
<text transform="translate(30,865.6) rotate(-90) scale(0.9695,1)" font-size="26" text-anchor="middle" font-weight="bold" fill="#000">Change in Abs. at 450 nm (arb. units)</text>
<text transform="translate(109.5,1131.5) rotate(-15.2)" font-size="27.3" text-anchor="start" font-weight="bold" fill="#000">Control</text>
<text transform="translate(272.5,1121.5) rotate(-15.2)" font-size="27.3" text-anchor="start" font-weight="bold" fill="#000">SnF<tspan font-size="19.11" dy="5" dx="1">2</tspan></text>
<text transform="translate(430,1120.5) rotate(-15.2)" font-size="27.3" text-anchor="start" font-weight="bold" fill="#000">Fer</text>
<text transform="translate(522,1138) rotate(-15.2)" font-size="27.3" text-anchor="start" font-weight="bold" fill="#000">Fer+SnF<tspan font-size="19.11" dy="5" dx="1">2</tspan></text>
<text transform="translate(-1,622.5) scale(1.0200,1)" font-size="73" text-anchor="start" font-weight="bold" fill="#000">d</text>
<line x1="919.1" y1="1051.5" x2="919.1" y2="1061" stroke="#515151" stroke-width="1.8" stroke-linecap="butt"/>
<line x1="912.35" y1="1051.5" x2="925.85" y2="1051.5" stroke="#515151" stroke-width="1.8" stroke-linecap="butt"/>
<line x1="912.35" y1="1061" x2="925.85" y2="1061" stroke="#515151" stroke-width="1.8" stroke-linecap="butt"/>
<line x1="1045.4" y1="1027" x2="1045.4" y2="1040" stroke="#515151" stroke-width="1.8" stroke-linecap="butt"/>
<line x1="1038.65" y1="1027" x2="1052.15" y2="1027" stroke="#515151" stroke-width="1.8" stroke-linecap="butt"/>
<line x1="1038.65" y1="1040" x2="1052.15" y2="1040" stroke="#515151" stroke-width="1.8" stroke-linecap="butt"/>
<line x1="1171.4" y1="996" x2="1171.4" y2="1008" stroke="#515151" stroke-width="1.8" stroke-linecap="butt"/>
<line x1="1164.65" y1="996" x2="1178.15" y2="996" stroke="#515151" stroke-width="1.8" stroke-linecap="butt"/>
<line x1="1164.65" y1="1008" x2="1178.15" y2="1008" stroke="#515151" stroke-width="1.8" stroke-linecap="butt"/>
<line x1="1297.4" y1="951.4" x2="1297.4" y2="974" stroke="#515151" stroke-width="1.8" stroke-linecap="butt"/>
<line x1="1290.65" y1="951.4" x2="1304.15" y2="951.4" stroke="#515151" stroke-width="1.8" stroke-linecap="butt"/>
<line x1="1290.65" y1="974" x2="1304.15" y2="974" stroke="#515151" stroke-width="1.8" stroke-linecap="butt"/>
<path d="M792.8 1070.7L919.1 1056.25L1045.4 1032.8L1171.4 1001.5L1297.4 963" fill="none" stroke="#515151" stroke-width="4.8" stroke-linejoin="round" stroke-linecap="round"/>
<rect x="786.3" y="1064.2" width="13" height="13" fill="#515151" stroke="none" stroke-width="1"/>
<rect x="912.6" y="1049.75" width="13" height="13" fill="#515151" stroke="none" stroke-width="1"/>
<rect x="1038.9" y="1026.3" width="13" height="13" fill="#515151" stroke="none" stroke-width="1"/>
<rect x="1164.9" y="995" width="13" height="13" fill="#515151" stroke="none" stroke-width="1"/>
<rect x="1290.9" y="956.5" width="13" height="13" fill="#515151" stroke="none" stroke-width="1"/>
<line x1="919.1" y1="1040" x2="919.1" y2="1052" stroke="#f14040" stroke-width="1.8" stroke-linecap="butt"/>
<line x1="912.35" y1="1040" x2="925.85" y2="1040" stroke="#f14040" stroke-width="1.8" stroke-linecap="butt"/>
<line x1="912.35" y1="1052" x2="925.85" y2="1052" stroke="#f14040" stroke-width="1.8" stroke-linecap="butt"/>
<line x1="1045.4" y1="1027" x2="1045.4" y2="1042.4" stroke="#f14040" stroke-width="1.8" stroke-linecap="butt"/>
<line x1="1038.65" y1="1027" x2="1052.15" y2="1027" stroke="#f14040" stroke-width="1.8" stroke-linecap="butt"/>
<line x1="1038.65" y1="1042.4" x2="1052.15" y2="1042.4" stroke="#f14040" stroke-width="1.8" stroke-linecap="butt"/>
<line x1="1171.4" y1="1008" x2="1171.4" y2="1027" stroke="#f14040" stroke-width="1.8" stroke-linecap="butt"/>
<line x1="1164.65" y1="1008" x2="1178.15" y2="1008" stroke="#f14040" stroke-width="1.8" stroke-linecap="butt"/>
<line x1="1164.65" y1="1027" x2="1178.15" y2="1027" stroke="#f14040" stroke-width="1.8" stroke-linecap="butt"/>
<line x1="1297.4" y1="978" x2="1297.4" y2="1001.6" stroke="#f14040" stroke-width="1.8" stroke-linecap="butt"/>
<line x1="1290.65" y1="978" x2="1304.15" y2="978" stroke="#f14040" stroke-width="1.8" stroke-linecap="butt"/>
<line x1="1290.65" y1="1001.6" x2="1304.15" y2="1001.6" stroke="#f14040" stroke-width="1.8" stroke-linecap="butt"/>
<path d="M792.8 1070.7L919.1 1046.3L1045.4 1034.8L1171.4 1017.6L1297.4 989.6" fill="none" stroke="#f14040" stroke-width="4.8" stroke-linejoin="round" stroke-linecap="round"/>
<circle cx="792.8" cy="1070.7" r="6.5" fill="#f14040"/>
<circle cx="919.1" cy="1046.3" r="6.5" fill="#f14040"/>
<circle cx="1045.4" cy="1034.8" r="6.5" fill="#f14040"/>
<circle cx="1171.4" cy="1017.6" r="6.5" fill="#f14040"/>
<circle cx="1297.4" cy="989.6" r="6.5" fill="#f14040"/>
<line x1="919.1" y1="1032" x2="919.1" y2="1042" stroke="#1a6fdf" stroke-width="1.8" stroke-linecap="butt"/>
<line x1="912.35" y1="1032" x2="925.85" y2="1032" stroke="#1a6fdf" stroke-width="1.8" stroke-linecap="butt"/>
<line x1="912.35" y1="1042" x2="925.85" y2="1042" stroke="#1a6fdf" stroke-width="1.8" stroke-linecap="butt"/>
<line x1="1045.4" y1="992" x2="1045.4" y2="1002" stroke="#1a6fdf" stroke-width="1.8" stroke-linecap="butt"/>
<line x1="1038.65" y1="992" x2="1052.15" y2="992" stroke="#1a6fdf" stroke-width="1.8" stroke-linecap="butt"/>
<line x1="1038.65" y1="1002" x2="1052.15" y2="1002" stroke="#1a6fdf" stroke-width="1.8" stroke-linecap="butt"/>
<line x1="1171.4" y1="925.6" x2="1171.4" y2="938.4" stroke="#1a6fdf" stroke-width="1.8" stroke-linecap="butt"/>
<line x1="1164.65" y1="925.6" x2="1178.15" y2="925.6" stroke="#1a6fdf" stroke-width="1.8" stroke-linecap="butt"/>
<line x1="1164.65" y1="938.4" x2="1178.15" y2="938.4" stroke="#1a6fdf" stroke-width="1.8" stroke-linecap="butt"/>
<line x1="1297.4" y1="826" x2="1297.4" y2="853.4" stroke="#1a6fdf" stroke-width="1.8" stroke-linecap="butt"/>
<line x1="1290.65" y1="826" x2="1304.15" y2="826" stroke="#1a6fdf" stroke-width="1.8" stroke-linecap="butt"/>
<line x1="1290.65" y1="853.4" x2="1304.15" y2="853.4" stroke="#1a6fdf" stroke-width="1.8" stroke-linecap="butt"/>
<path d="M792.8 1070.7L919.1 1037L1045.4 997.3L1171.4 931.6L1297.4 839" fill="none" stroke="#1a6fdf" stroke-width="4.8" stroke-linejoin="round" stroke-linecap="round"/>
<polygon points="792.8,1061.65 801.2,1076.25 784.4,1076.25" fill="#1a6fdf"/>
<polygon points="919.1,1027.95 927.5,1042.55 910.7,1042.55" fill="#1a6fdf"/>
<polygon points="1045.4,988.25 1053.8,1002.85 1037,1002.85" fill="#1a6fdf"/>
<polygon points="1171.4,922.55 1179.8,937.15 1163,937.15" fill="#1a6fdf"/>
<polygon points="1297.4,829.95 1305.8,844.55 1289,844.55" fill="#1a6fdf"/>
<line x1="919.1" y1="933.25" x2="919.1" y2="967.5" stroke="#2fab67" stroke-width="1.8" stroke-linecap="butt"/>
<line x1="912.35" y1="933.25" x2="925.85" y2="933.25" stroke="#2fab67" stroke-width="1.8" stroke-linecap="butt"/>
<line x1="912.35" y1="967.5" x2="925.85" y2="967.5" stroke="#2fab67" stroke-width="1.8" stroke-linecap="butt"/>
<line x1="1045.4" y1="847" x2="1045.4" y2="895.8" stroke="#2fab67" stroke-width="1.8" stroke-linecap="butt"/>
<line x1="1038.65" y1="847" x2="1052.15" y2="847" stroke="#2fab67" stroke-width="1.8" stroke-linecap="butt"/>
<line x1="1038.65" y1="895.8" x2="1052.15" y2="895.8" stroke="#2fab67" stroke-width="1.8" stroke-linecap="butt"/>
<line x1="1171.4" y1="764.5" x2="1171.4" y2="818.2" stroke="#2fab67" stroke-width="1.8" stroke-linecap="butt"/>
<line x1="1164.65" y1="764.5" x2="1178.15" y2="764.5" stroke="#2fab67" stroke-width="1.8" stroke-linecap="butt"/>
<line x1="1164.65" y1="818.2" x2="1178.15" y2="818.2" stroke="#2fab67" stroke-width="1.8" stroke-linecap="butt"/>
<line x1="1297.4" y1="663" x2="1297.4" y2="732.6" stroke="#2fab67" stroke-width="1.8" stroke-linecap="butt"/>
<line x1="1290.65" y1="663" x2="1304.15" y2="663" stroke="#2fab67" stroke-width="1.8" stroke-linecap="butt"/>
<line x1="1290.65" y1="732.6" x2="1304.15" y2="732.6" stroke="#2fab67" stroke-width="1.8" stroke-linecap="butt"/>
<path d="M792.8 1070.7L919.1 950L1045.4 872.4L1171.4 792.3L1297.4 699" fill="none" stroke="#2fab67" stroke-width="4.8" stroke-linejoin="round" stroke-linecap="round"/>
<polygon points="792.8,1079.75 801.2,1065.15 784.4,1065.15" fill="#2fab67"/>
<polygon points="919.1,959.05 927.5,944.45 910.7,944.45" fill="#2fab67"/>
<polygon points="1045.4,881.45 1053.8,866.85 1037,866.85" fill="#2fab67"/>
<polygon points="1171.4,801.35 1179.8,786.75 1163,786.75" fill="#2fab67"/>
<polygon points="1297.4,708.05 1305.8,693.45 1289,693.45" fill="#2fab67"/>
<path d="M774 1087.1V650H1315.8V1087.1" fill="none" stroke="#000" stroke-width="4" stroke-linejoin="miter" stroke-linecap="butt"/>
<line x1="772" y1="1087.1" x2="1317.8" y2="1087.1" stroke="#000" stroke-width="3.9" stroke-linecap="butt"/>
<line x1="765" y1="1070.7" x2="772.5" y2="1070.7" stroke="#000" stroke-width="4" stroke-linecap="butt"/>
<line x1="765" y1="1004.96" x2="772.5" y2="1004.96" stroke="#000" stroke-width="4" stroke-linecap="butt"/>
<line x1="765" y1="939.22" x2="772.5" y2="939.22" stroke="#000" stroke-width="4" stroke-linecap="butt"/>
<line x1="765" y1="873.48" x2="772.5" y2="873.48" stroke="#000" stroke-width="4" stroke-linecap="butt"/>
<line x1="765" y1="807.74" x2="772.5" y2="807.74" stroke="#000" stroke-width="4" stroke-linecap="butt"/>
<line x1="765" y1="742" x2="772.5" y2="742" stroke="#000" stroke-width="4" stroke-linecap="butt"/>
<line x1="765" y1="676.26" x2="772.5" y2="676.26" stroke="#000" stroke-width="4" stroke-linecap="butt"/>
<line x1="769.2" y1="1037.83" x2="772.5" y2="1037.83" stroke="#000" stroke-width="4" stroke-linecap="butt"/>
<line x1="769.2" y1="972.09" x2="772.5" y2="972.09" stroke="#000" stroke-width="4" stroke-linecap="butt"/>
<line x1="769.2" y1="906.35" x2="772.5" y2="906.35" stroke="#000" stroke-width="4" stroke-linecap="butt"/>
<line x1="769.2" y1="840.61" x2="772.5" y2="840.61" stroke="#000" stroke-width="4" stroke-linecap="butt"/>
<line x1="769.2" y1="774.87" x2="772.5" y2="774.87" stroke="#000" stroke-width="4" stroke-linecap="butt"/>
<line x1="769.2" y1="709.13" x2="772.5" y2="709.13" stroke="#000" stroke-width="4" stroke-linecap="butt"/>
<text transform="translate(759.3,1078.5) scale(0.9700,1)" font-size="27.3" text-anchor="end" font-weight="bold" fill="#000">0</text>
<text transform="translate(759.3,1012.76) scale(0.9700,1)" font-size="27.3" text-anchor="end" font-weight="bold" fill="#000">100</text>
<text transform="translate(759.3,947.02) scale(0.9700,1)" font-size="27.3" text-anchor="end" font-weight="bold" fill="#000">200</text>
<text transform="translate(759.3,881.28) scale(0.9700,1)" font-size="27.3" text-anchor="end" font-weight="bold" fill="#000">300</text>
<text transform="translate(759.3,815.54) scale(0.9700,1)" font-size="27.3" text-anchor="end" font-weight="bold" fill="#000">400</text>
<text transform="translate(759.3,749.8) scale(0.9700,1)" font-size="27.3" text-anchor="end" font-weight="bold" fill="#000">500</text>
<text transform="translate(759.3,684.06) scale(0.9700,1)" font-size="27.3" text-anchor="end" font-weight="bold" fill="#000">600</text>
<line x1="792.8" y1="1088.55" x2="792.8" y2="1095.65" stroke="#000" stroke-width="4" stroke-linecap="butt"/>
<line x1="919.1" y1="1088.55" x2="919.1" y2="1095.65" stroke="#000" stroke-width="4" stroke-linecap="butt"/>
<line x1="1045.4" y1="1088.55" x2="1045.4" y2="1095.65" stroke="#000" stroke-width="4" stroke-linecap="butt"/>
<line x1="1171.4" y1="1088.55" x2="1171.4" y2="1095.65" stroke="#000" stroke-width="4" stroke-linecap="butt"/>
<line x1="1297.4" y1="1088.55" x2="1297.4" y2="1095.65" stroke="#000" stroke-width="4" stroke-linecap="butt"/>
<text transform="translate(792.8,1122.6)" font-size="27.3" text-anchor="middle" font-weight="bold" fill="#000">0</text>
<text transform="translate(919.1,1122.6)" font-size="27.3" text-anchor="middle" font-weight="bold" fill="#000">2.5</text>
<text transform="translate(1045.4,1122.6)" font-size="27.3" text-anchor="middle" font-weight="bold" fill="#000">5</text>
<text transform="translate(1171.4,1122.6)" font-size="27.3" text-anchor="middle" font-weight="bold" fill="#000">7.5</text>
<text transform="translate(1297.4,1122.6)" font-size="27.3" text-anchor="middle" font-weight="bold" fill="#000">10</text>
<text transform="translate(1045.5,1166) scale(0.9964,1)" font-size="26.5" text-anchor="middle" font-weight="bold" fill="#000">Time (min)</text>
<text transform="translate(704.4,867.6) rotate(-90) scale(0.9866,1)" font-size="26" text-anchor="middle" font-weight="bold" fill="#000">PL Intensity at 520 nm (arb. units)</text>
<line x1="800.3" y1="681.25" x2="851" y2="681.25" stroke="#2fab67" stroke-width="4.8" stroke-linecap="round"/>
<polygon points="826,690.3 834.4,675.7 817.6,675.7" fill="#2fab67"/>
<text transform="translate(859.5,688)" font-size="28" text-anchor="start" font-weight="bold" fill="#000">Fer+SnF<tspan font-size="18.62" dy="7.5" dx="0.5">2</tspan></text>
<line x1="800.3" y1="723.25" x2="851" y2="723.25" stroke="#1a6fdf" stroke-width="4.8" stroke-linecap="round"/>
<polygon points="826,714.2 834.4,728.8 817.6,728.8" fill="#1a6fdf"/>
<text transform="translate(859.5,731.25)" font-size="28" text-anchor="start" font-weight="bold" fill="#000">Fer</text>
<line x1="800.3" y1="760" x2="851" y2="760" stroke="#f14040" stroke-width="4.8" stroke-linecap="round"/>
<circle cx="826" cy="760" r="6.5" fill="#f14040"/>
<text transform="translate(859.5,767.5)" font-size="28" text-anchor="start" font-weight="bold" fill="#000">SnF<tspan font-size="18.62" dy="7.5" dx="0.5">2</tspan></text>
<line x1="800.3" y1="803" x2="851" y2="803" stroke="#515151" stroke-width="4.8" stroke-linecap="round"/>
<rect x="819.5" y="796.5" width="13" height="13" fill="#515151" stroke="none" stroke-width="1"/>
<text transform="translate(859.5,810.5)" font-size="28" text-anchor="start" font-weight="bold" fill="#000">Control</text>
<text transform="translate(678.5,622.5)" font-size="73" text-anchor="start" font-weight="bold" fill="#000">e</text>
<line x1="1595" y1="974.5" x2="1595" y2="1020.75" stroke="#000000" stroke-width="1.9" stroke-linecap="butt"/>
<line x1="1588" y1="974.5" x2="1602" y2="974.5" stroke="#000000" stroke-width="1.9" stroke-linecap="butt"/>
<line x1="1588" y1="1020.75" x2="1602" y2="1020.75" stroke="#000000" stroke-width="1.9" stroke-linecap="butt"/>
<line x1="1723.75" y1="943.75" x2="1723.75" y2="993" stroke="#000000" stroke-width="1.9" stroke-linecap="butt"/>
<line x1="1716.75" y1="943.75" x2="1730.75" y2="943.75" stroke="#000000" stroke-width="1.9" stroke-linecap="butt"/>
<line x1="1716.75" y1="993" x2="1730.75" y2="993" stroke="#000000" stroke-width="1.9" stroke-linecap="butt"/>
<line x1="1852.7" y1="901" x2="1852.7" y2="941" stroke="#000000" stroke-width="1.9" stroke-linecap="butt"/>
<line x1="1845.7" y1="901" x2="1859.7" y2="901" stroke="#000000" stroke-width="1.9" stroke-linecap="butt"/>
<line x1="1845.7" y1="941" x2="1859.7" y2="941" stroke="#000000" stroke-width="1.9" stroke-linecap="butt"/>
<line x1="1981.4" y1="865" x2="1981.4" y2="923.6" stroke="#000000" stroke-width="1.9" stroke-linecap="butt"/>
<line x1="1974.4" y1="865" x2="1988.4" y2="865" stroke="#000000" stroke-width="1.9" stroke-linecap="butt"/>
<line x1="1974.4" y1="923.6" x2="1988.4" y2="923.6" stroke="#000000" stroke-width="1.9" stroke-linecap="butt"/>
<path d="M1466.25 1074.4L1595 997.5L1723.75 968.75L1852.7 921L1981.4 894.4" fill="none" stroke="#000000" stroke-width="5" stroke-linejoin="round" stroke-linecap="round"/>
<rect x="1459.75" y="1067.9" width="13" height="13" fill="#000000" stroke="none" stroke-width="1"/>
<rect x="1588.5" y="991" width="13" height="13" fill="#000000" stroke="none" stroke-width="1"/>
<rect x="1717.25" y="962.25" width="13" height="13" fill="#000000" stroke="none" stroke-width="1"/>
<rect x="1846.2" y="914.5" width="13" height="13" fill="#000000" stroke="none" stroke-width="1"/>
<rect x="1974.9" y="887.9" width="13" height="13" fill="#000000" stroke="none" stroke-width="1"/>
<line x1="1595" y1="732" x2="1595" y2="818" stroke="#ff0000" stroke-width="1.9" stroke-linecap="butt"/>
<line x1="1588" y1="732" x2="1602" y2="732" stroke="#ff0000" stroke-width="1.9" stroke-linecap="butt"/>
<line x1="1588" y1="818" x2="1602" y2="818" stroke="#ff0000" stroke-width="1.9" stroke-linecap="butt"/>
<line x1="1723.75" y1="697" x2="1723.75" y2="782.5" stroke="#ff0000" stroke-width="1.9" stroke-linecap="butt"/>
<line x1="1716.75" y1="697" x2="1730.75" y2="697" stroke="#ff0000" stroke-width="1.9" stroke-linecap="butt"/>
<line x1="1716.75" y1="782.5" x2="1730.75" y2="782.5" stroke="#ff0000" stroke-width="1.9" stroke-linecap="butt"/>
<line x1="1852.7" y1="672.4" x2="1852.7" y2="774" stroke="#ff0000" stroke-width="1.9" stroke-linecap="butt"/>
<line x1="1845.7" y1="672.4" x2="1859.7" y2="672.4" stroke="#ff0000" stroke-width="1.9" stroke-linecap="butt"/>
<line x1="1845.7" y1="774" x2="1859.7" y2="774" stroke="#ff0000" stroke-width="1.9" stroke-linecap="butt"/>
<line x1="1981.4" y1="676.6" x2="1981.4" y2="743" stroke="#ff0000" stroke-width="1.9" stroke-linecap="butt"/>
<line x1="1974.4" y1="676.6" x2="1988.4" y2="676.6" stroke="#ff0000" stroke-width="1.9" stroke-linecap="butt"/>
<line x1="1974.4" y1="743" x2="1988.4" y2="743" stroke="#ff0000" stroke-width="1.9" stroke-linecap="butt"/>
<path d="M1466.25 1074.4L1595 775L1723.75 740L1852.7 723.6L1981.4 710" fill="none" stroke="#ff0000" stroke-width="5" stroke-linejoin="round" stroke-linecap="round"/>
<circle cx="1466.25" cy="1074.4" r="6.5" fill="#ff0000"/>
<circle cx="1595" cy="775" r="6.5" fill="#ff0000"/>
<circle cx="1723.75" cy="740" r="6.5" fill="#ff0000"/>
<circle cx="1852.7" cy="723.6" r="6.5" fill="#ff0000"/>
<circle cx="1981.4" cy="710" r="6.5" fill="#ff0000"/>
<path d="M1450.6 1087.5V650.4H1994.4V1087.5" fill="none" stroke="#000" stroke-width="4" stroke-linejoin="miter" stroke-linecap="butt"/>
<line x1="1448.6" y1="1087.5" x2="1996.4" y2="1087.5" stroke="#000" stroke-width="4.4" stroke-linecap="butt"/>
<line x1="1441.6" y1="1074.4" x2="1449.1" y2="1074.4" stroke="#000" stroke-width="4" stroke-linecap="butt"/>
<line x1="1441.6" y1="981.12" x2="1449.1" y2="981.12" stroke="#000" stroke-width="4" stroke-linecap="butt"/>
<line x1="1441.6" y1="887.84" x2="1449.1" y2="887.84" stroke="#000" stroke-width="4" stroke-linecap="butt"/>
<line x1="1441.6" y1="794.56" x2="1449.1" y2="794.56" stroke="#000" stroke-width="4" stroke-linecap="butt"/>
<line x1="1441.6" y1="701.28" x2="1449.1" y2="701.28" stroke="#000" stroke-width="4" stroke-linecap="butt"/>
<line x1="1445.8" y1="1027.76" x2="1449.1" y2="1027.76" stroke="#000" stroke-width="4" stroke-linecap="butt"/>
<line x1="1445.8" y1="934.48" x2="1449.1" y2="934.48" stroke="#000" stroke-width="4" stroke-linecap="butt"/>
<line x1="1445.8" y1="841.2" x2="1449.1" y2="841.2" stroke="#000" stroke-width="4" stroke-linecap="butt"/>
<line x1="1445.8" y1="747.92" x2="1449.1" y2="747.92" stroke="#000" stroke-width="4" stroke-linecap="butt"/>
<line x1="1445.8" y1="654.64" x2="1449.1" y2="654.64" stroke="#000" stroke-width="4" stroke-linecap="butt"/>
<text transform="translate(1436.8,1082.2) scale(0.9800,1)" font-size="27.3" text-anchor="end" font-weight="bold" fill="#000">0</text>
<text transform="translate(1436.8,988.92) scale(0.9800,1)" font-size="27.3" text-anchor="end" font-weight="bold" fill="#000">2</text>
<text transform="translate(1436.8,895.64) scale(0.9800,1)" font-size="27.3" text-anchor="end" font-weight="bold" fill="#000">4</text>
<text transform="translate(1436.8,802.36) scale(0.9800,1)" font-size="27.3" text-anchor="end" font-weight="bold" fill="#000">6</text>
<text transform="translate(1436.8,709.08) scale(0.9800,1)" font-size="27.3" text-anchor="end" font-weight="bold" fill="#000">8</text>
<line x1="1466.25" y1="1089.2" x2="1466.25" y2="1096.3" stroke="#000" stroke-width="4" stroke-linecap="butt"/>
<line x1="1595" y1="1089.2" x2="1595" y2="1096.3" stroke="#000" stroke-width="4" stroke-linecap="butt"/>
<line x1="1723.75" y1="1089.2" x2="1723.75" y2="1096.3" stroke="#000" stroke-width="4" stroke-linecap="butt"/>
<line x1="1852.7" y1="1089.2" x2="1852.7" y2="1096.3" stroke="#000" stroke-width="4" stroke-linecap="butt"/>
<line x1="1981.4" y1="1089.2" x2="1981.4" y2="1096.3" stroke="#000" stroke-width="4" stroke-linecap="butt"/>
<text transform="translate(1466.25,1123.2)" font-size="27.3" text-anchor="middle" font-weight="bold" fill="#000">0</text>
<text transform="translate(1595,1123.2)" font-size="27.3" text-anchor="middle" font-weight="bold" fill="#000">2.5</text>
<text transform="translate(1723.75,1123.2)" font-size="27.3" text-anchor="middle" font-weight="bold" fill="#000">5</text>
<text transform="translate(1852.7,1123.2)" font-size="27.3" text-anchor="middle" font-weight="bold" fill="#000">7.5</text>
<text transform="translate(1981.4,1123.2)" font-size="27.3" text-anchor="middle" font-weight="bold" fill="#000">10</text>
<text transform="translate(1723,1163.75) scale(1.0039,1)" font-size="26.5" text-anchor="middle" font-weight="bold" fill="#000">Time (min)</text>
<text transform="translate(1386,868.7) rotate(-90) scale(0.9979,1)" font-size="26.8" text-anchor="middle" font-weight="bold" fill="#000">PL Intensity at 452 nm (arb. units)</text>
<line x1="1657" y1="821.25" x2="1705.5" y2="821.25" stroke="#ff0000" stroke-width="5" stroke-linecap="round"/>
<circle cx="1681.25" cy="821.25" r="6.5" fill="#ff0000"/>
<text transform="translate(1714.5,828)" font-size="28.2" text-anchor="start" font-weight="bold" fill="#000">Fer+SnF<tspan font-size="18.75" dy="7.5" dx="0.5">2</tspan></text>
<line x1="1657" y1="863.75" x2="1705.5" y2="863.75" stroke="#000000" stroke-width="5" stroke-linecap="round"/>
<rect x="1674.75" y="857.25" width="13" height="13" fill="#000000" stroke="none" stroke-width="1"/>
<text transform="translate(1714.5,870.9)" font-size="28.2" text-anchor="start" font-weight="bold" fill="#000">Fer</text>
<text transform="translate(1364,619.5) scale(1.1000,1)" font-size="73" text-anchor="start" font-weight="bold" fill="#000">f</text>
<rect x="101.1" y="1478.6" width="62.8" height="175.3" fill="#c6c6c6" stroke="#707070" stroke-width="1.3"/>
<rect x="336.1" y="1449.35" width="62.8" height="204.55" fill="#c6c6c6" stroke="#707070" stroke-width="1.3"/>
<rect x="570.2" y="1301.35" width="62.8" height="352.55" fill="#c6c6c6" stroke="#707070" stroke-width="1.3"/>
<line x1="133" y1="1462" x2="133" y2="1494.5" stroke="#000" stroke-width="2.3" stroke-linecap="butt"/>
<line x1="124.25" y1="1462" x2="141.75" y2="1462" stroke="#000" stroke-width="2.3" stroke-linecap="butt"/>
<line x1="124.25" y1="1494.5" x2="141.75" y2="1494.5" stroke="#000" stroke-width="2.3" stroke-linecap="butt"/>
<circle cx="125.5" cy="1459.5" r="3.1" fill="#000"/>
<circle cx="127" cy="1483" r="3.1" fill="#000"/>
<circle cx="129.5" cy="1492" r="3.1" fill="#000"/>
<line x1="367.5" y1="1433" x2="367.5" y2="1464.25" stroke="#000" stroke-width="2.3" stroke-linecap="butt"/>
<line x1="358.75" y1="1433" x2="376.25" y2="1433" stroke="#000" stroke-width="2.3" stroke-linecap="butt"/>
<line x1="358.75" y1="1464.25" x2="376.25" y2="1464.25" stroke="#000" stroke-width="2.3" stroke-linecap="butt"/>
<circle cx="368.25" cy="1437.5" r="3.1" fill="#000"/>
<circle cx="375" cy="1440.75" r="3.1" fill="#000"/>
<circle cx="357" cy="1467" r="3.1" fill="#000"/>
<line x1="601.75" y1="1288.75" x2="601.75" y2="1312.5" stroke="#000" stroke-width="2.3" stroke-linecap="butt"/>
<line x1="593" y1="1288.75" x2="610.5" y2="1288.75" stroke="#000" stroke-width="2.3" stroke-linecap="butt"/>
<line x1="593" y1="1312.5" x2="610.5" y2="1312.5" stroke="#000" stroke-width="2.3" stroke-linecap="butt"/>
<circle cx="594.25" cy="1287" r="3.1" fill="#000"/>
<circle cx="602" cy="1305.5" r="3.1" fill="#000"/>
<circle cx="600" cy="1309.5" r="3.1" fill="#000"/>
<path d="M125.75 1447V1237.7H610V1275" fill="none" stroke="#000" stroke-width="2.2" stroke-linejoin="miter" stroke-linecap="butt"/>
<text transform="translate(370.5,1237.71)" font-size="27.5" text-anchor="middle" font-weight="bold" fill="#000" letter-spacing="4">***</text>
<path d="M142.5 1447V1401.4H358.75V1418.75" fill="none" stroke="#000" stroke-width="2.2" stroke-linejoin="miter" stroke-linecap="butt"/>
<text transform="translate(250.4,1393.75)" font-size="29" text-anchor="middle" font-weight="bold" fill="#000">ns</text>
<path d="M374.6 1418.75V1262.2H595V1276.25" fill="none" stroke="#000" stroke-width="2.2" stroke-linejoin="miter" stroke-linecap="butt"/>
<text transform="translate(486.5,1265.21)" font-size="27.5" text-anchor="middle" font-weight="bold" fill="#000" letter-spacing="4">***</text>
<path d="M93.1 1653.9V1211H641V1653.9" fill="none" stroke="#000" stroke-width="4" stroke-linejoin="miter" stroke-linecap="butt"/>
<line x1="84" y1="1653.9" x2="643" y2="1653.9" stroke="#000" stroke-width="4" stroke-linecap="butt"/>
<line x1="84.1" y1="1532.44" x2="91.6" y2="1532.44" stroke="#000" stroke-width="4" stroke-linecap="butt"/>
<line x1="84.1" y1="1410.98" x2="91.6" y2="1410.98" stroke="#000" stroke-width="4" stroke-linecap="butt"/>
<line x1="84.1" y1="1289.52" x2="91.6" y2="1289.52" stroke="#000" stroke-width="4" stroke-linecap="butt"/>
<line x1="88.3" y1="1593.17" x2="91.6" y2="1593.17" stroke="#000" stroke-width="4" stroke-linecap="butt"/>
<line x1="88.3" y1="1471.71" x2="91.6" y2="1471.71" stroke="#000" stroke-width="4" stroke-linecap="butt"/>
<line x1="88.3" y1="1350.25" x2="91.6" y2="1350.25" stroke="#000" stroke-width="4" stroke-linecap="butt"/>
<line x1="88.3" y1="1228.79" x2="91.6" y2="1228.79" stroke="#000" stroke-width="4" stroke-linecap="butt"/>
<text transform="translate(77.5,1661.7) scale(0.9800,1)" font-size="27.3" text-anchor="end" font-weight="bold" fill="#000">0</text>
<text transform="translate(77.5,1540.24) scale(0.9800,1)" font-size="27.3" text-anchor="end" font-weight="bold" fill="#000">0.2</text>
<text transform="translate(77.5,1418.78) scale(0.9800,1)" font-size="27.3" text-anchor="end" font-weight="bold" fill="#000">0.4</text>
<text transform="translate(77.5,1297.32) scale(0.9800,1)" font-size="27.3" text-anchor="end" font-weight="bold" fill="#000">0.6</text>
<text transform="translate(30.1,1432.6) rotate(-90) scale(0.9990,1)" font-size="26" text-anchor="middle" font-weight="bold" fill="#000">Change in Abs. at 652 nm (arb. units)</text>
<text transform="translate(116,1692) rotate(-15.2)" font-size="27.3" text-anchor="start" font-weight="bold" fill="#000">Fer</text>
<text transform="translate(314.5,1709) rotate(-15.2)" font-size="27.3" text-anchor="start" font-weight="bold" fill="#000">Fer+NaF</text>
<text transform="translate(518.5,1708.5) rotate(-15.2)" font-size="27.3" text-anchor="start" font-weight="bold" fill="#000">Fer+SnF<tspan font-size="19.11" dy="5" dx="1">2</tspan></text>
<text transform="translate(-1,1171) scale(1.0200,1)" font-size="73" text-anchor="start" font-weight="bold" fill="#000">g</text>
<defs><pattern id="dotp" width="2" height="2" patternUnits="userSpaceOnUse"><rect width="2" height="2" fill="#f7f7f7"/><rect width="1" height="1" fill="#ebebeb"/><rect x="1" y="1" width="1" height="1" fill="#ebebeb"/></pattern></defs>
<rect x="775.1" y="1406.1" width="63.05" height="249.9" fill="url(#dotp)" stroke="#747474" stroke-width="1.3"/>
<rect x="1009.35" y="1410.6" width="63.3" height="245.4" fill="#c6c6c6" stroke="#707070" stroke-width="1.3"/>
<rect x="1243.85" y="1387.35" width="63.55" height="268.65" fill="#848484" stroke="#5a5a5a" stroke-width="1.3"/>
<line x1="807" y1="1397" x2="807" y2="1415" stroke="#000" stroke-width="2.3" stroke-linecap="butt"/>
<line x1="798.5" y1="1397" x2="815.5" y2="1397" stroke="#000" stroke-width="2.3" stroke-linecap="butt"/>
<line x1="798.5" y1="1415" x2="815.5" y2="1415" stroke="#000" stroke-width="2.3" stroke-linecap="butt"/>
<circle cx="801.25" cy="1396.25" r="3.1" fill="#000"/>
<circle cx="798.75" cy="1405.75" r="3.1" fill="#000"/>
<circle cx="803.25" cy="1415" r="3.1" fill="#000"/>
<line x1="1040.75" y1="1390.75" x2="1040.75" y2="1429.5" stroke="#000" stroke-width="2.3" stroke-linecap="butt"/>
<line x1="1031.75" y1="1390.75" x2="1049.75" y2="1390.75" stroke="#000" stroke-width="2.3" stroke-linecap="butt"/>
<line x1="1031.75" y1="1429.5" x2="1049.75" y2="1429.5" stroke="#000" stroke-width="2.3" stroke-linecap="butt"/>
<circle cx="1030.5" cy="1387.5" r="3.1" fill="#000"/>
<circle cx="1048.75" cy="1418.25" r="3.1" fill="#000"/>
<circle cx="1041.75" cy="1424.25" r="3.1" fill="#000"/>
<line x1="1275.5" y1="1380.75" x2="1275.5" y2="1392.5" stroke="#000" stroke-width="2.3" stroke-linecap="butt"/>
<line x1="1266.5" y1="1380.75" x2="1284.5" y2="1380.75" stroke="#000" stroke-width="2.3" stroke-linecap="butt"/>
<line x1="1266.5" y1="1392.5" x2="1284.5" y2="1392.5" stroke="#000" stroke-width="2.3" stroke-linecap="butt"/>
<circle cx="1268" cy="1380.75" r="3.1" fill="#000"/>
<circle cx="1275.75" cy="1386.25" r="3.1" fill="#000"/>
<circle cx="1273.75" cy="1393.25" r="3.1" fill="#000"/>
<line x1="807.5" y1="1368.1" x2="1275.75" y2="1368.1" stroke="#000" stroke-width="2.4" stroke-linecap="butt"/>
<text transform="translate(1041.3,1358)" font-size="29" text-anchor="middle" font-weight="bold" fill="#000">ns</text>
<rect x="832.2" y="1222.2" width="50.4" height="24.4" fill="url(#dotp)" stroke="#747474" stroke-width="1.3"/>
<rect x="832.2" y="1258.7" width="50.4" height="24.2" fill="#c6c6c6" stroke="#747474" stroke-width="1.3"/>
<rect x="832.2" y="1302.5" width="50.4" height="24.5" fill="#848484" stroke="#5a5a5a" stroke-width="1.3"/>
<text transform="translate(890.5,1241.75)" font-size="29" text-anchor="start" font-weight="bold" fill="#000">Fer</text>
<text transform="translate(890.5,1278.75)" font-size="29" text-anchor="start" font-weight="bold" fill="#000">Fer+BaF<tspan font-size="19.29" dy="7.5">2</tspan><tspan dy="-7.5"> (20 <tspan font-family="'Liberation Serif', serif">μ</tspan>g/ml)</tspan></text>
<text transform="translate(890.5,1321.75)" font-size="29" text-anchor="start" font-weight="bold" fill="#000">Fer+BaF<tspan font-size="19.29" dy="7.5">2</tspan><tspan dy="-7.5"> (30 <tspan font-family="'Liberation Serif', serif">μ</tspan>g/ml)</tspan></text>
<path d="M766.9 1656V1213.4H1315V1656" fill="none" stroke="#000" stroke-width="4" stroke-linejoin="miter" stroke-linecap="butt"/>
<line x1="757.7" y1="1656" x2="1317" y2="1656" stroke="#000" stroke-width="4" stroke-linecap="butt"/>
<line x1="757.9" y1="1520.92" x2="765.4" y2="1520.92" stroke="#000" stroke-width="4" stroke-linecap="butt"/>
<line x1="757.9" y1="1385.84" x2="765.4" y2="1385.84" stroke="#000" stroke-width="4" stroke-linecap="butt"/>
<line x1="757.9" y1="1250.76" x2="765.4" y2="1250.76" stroke="#000" stroke-width="4" stroke-linecap="butt"/>
<line x1="762.1" y1="1588.46" x2="765.4" y2="1588.46" stroke="#000" stroke-width="4" stroke-linecap="butt"/>
<line x1="762.1" y1="1453.38" x2="765.4" y2="1453.38" stroke="#000" stroke-width="4" stroke-linecap="butt"/>
<line x1="762.1" y1="1318.3" x2="765.4" y2="1318.3" stroke="#000" stroke-width="4" stroke-linecap="butt"/>
<text transform="translate(751.5,1663.8) scale(0.9800,1)" font-size="27.3" text-anchor="end" font-weight="bold" fill="#000">0</text>
<text transform="translate(751.5,1528.72) scale(0.9800,1)" font-size="27.3" text-anchor="end" font-weight="bold" fill="#000">0.2</text>
<text transform="translate(751.5,1393.64) scale(0.9800,1)" font-size="27.3" text-anchor="end" font-weight="bold" fill="#000">0.4</text>
<text transform="translate(751.5,1258.56) scale(0.9800,1)" font-size="27.3" text-anchor="end" font-weight="bold" fill="#000">0.6</text>
<text transform="translate(703.9,1435.3) rotate(-90)" font-size="26" text-anchor="middle" font-weight="bold" fill="#000">Change in Abs. at 652 nm (arb. units)</text>
<text transform="translate(675,1183.75)" font-size="73" text-anchor="start" font-weight="bold" fill="#000">h</text>
<rect x="1453.8" y="1645.8" width="62.2" height="8.8" fill="#c6c6c6" stroke="#707070" stroke-width="1.3"/>
<rect x="1610.5" y="1648.1" width="62.2" height="6.5" fill="#c6c6c6" stroke="#707070" stroke-width="1.3"/>
<rect x="1767.3" y="1520.8" width="62.2" height="133.8" fill="#c6c6c6" stroke="#707070" stroke-width="1.3"/>
<rect x="1924" y="1345" width="62.2" height="309.6" fill="#c6c6c6" stroke="#707070" stroke-width="1.3"/>
<line x1="1485" y1="1643.6" x2="1485" y2="1646.9" stroke="#000" stroke-width="2.3" stroke-linecap="butt"/>
<line x1="1476.25" y1="1643.6" x2="1493.75" y2="1643.6" stroke="#000" stroke-width="2.3" stroke-linecap="butt"/>
<line x1="1476.25" y1="1646.9" x2="1493.75" y2="1646.9" stroke="#000" stroke-width="2.3" stroke-linecap="butt"/>
<circle cx="1478.6" cy="1645.9" r="3.1" fill="#000"/>
<circle cx="1482.6" cy="1643.6" r="3.1" fill="#000"/>
<circle cx="1481" cy="1645" r="3.1" fill="#000"/>
<line x1="1641.3" y1="1643.6" x2="1641.3" y2="1650.8" stroke="#000" stroke-width="2.3" stroke-linecap="butt"/>
<line x1="1631.8" y1="1643.6" x2="1650.8" y2="1643.6" stroke="#000" stroke-width="2.3" stroke-linecap="butt"/>
<line x1="1631.8" y1="1650.8" x2="1650.8" y2="1650.8" stroke="#000" stroke-width="2.3" stroke-linecap="butt"/>
<circle cx="1643" cy="1643.6" r="3.1" fill="#000"/>
<circle cx="1648.6" cy="1648.5" r="3.1" fill="#000"/>
<circle cx="1632" cy="1651.5" r="3.1" fill="#000"/>
<line x1="1798.25" y1="1512" x2="1798.25" y2="1529.25" stroke="#000" stroke-width="2.3" stroke-linecap="butt"/>
<line x1="1789.25" y1="1512" x2="1807.25" y2="1512" stroke="#000" stroke-width="2.3" stroke-linecap="butt"/>
<line x1="1789.25" y1="1529.25" x2="1807.25" y2="1529.25" stroke="#000" stroke-width="2.3" stroke-linecap="butt"/>
<circle cx="1790.75" cy="1511.25" r="3.1" fill="#000"/>
<circle cx="1797" cy="1521.25" r="3.1" fill="#000"/>
<circle cx="1798.75" cy="1528.75" r="3.1" fill="#000"/>
<line x1="1955" y1="1300" x2="1955" y2="1388.6" stroke="#000" stroke-width="2.3" stroke-linecap="butt"/>
<line x1="1945.75" y1="1300" x2="1964.25" y2="1300" stroke="#000" stroke-width="2.3" stroke-linecap="butt"/>
<line x1="1945.75" y1="1388.6" x2="1964.25" y2="1388.6" stroke="#000" stroke-width="2.3" stroke-linecap="butt"/>
<circle cx="1943.4" cy="1295" r="3.1" fill="#000"/>
<circle cx="1948" cy="1356" r="3.1" fill="#000"/>
<circle cx="1959" cy="1381.6" r="3.1" fill="#000"/>
<path d="M1485.2 1632.7V1617.4H1636V1632.7" fill="none" stroke="#000" stroke-width="2.2" stroke-linejoin="miter" stroke-linecap="butt"/>
<text transform="translate(1560.5,1610.2)" font-size="29" text-anchor="middle" font-weight="bold" fill="#000">ns</text>
<path d="M1649.3 1632.7V1240.2H1962V1284.4" fill="none" stroke="#000" stroke-width="2.2" stroke-linejoin="miter" stroke-linecap="butt"/>
<text transform="translate(1808,1240.71)" font-size="27.5" text-anchor="middle" font-weight="bold" fill="#000" letter-spacing="4">***</text>
<path d="M1797.4 1485V1263.3H1948.4V1285" fill="none" stroke="#000" stroke-width="2.2" stroke-linejoin="miter" stroke-linecap="butt"/>
<text transform="translate(1875.6,1265.21)" font-size="27.5" text-anchor="middle" font-weight="bold" fill="#000" letter-spacing="4">***</text>
<path d="M1445.9 1654.6V1213.4H1994.2V1654.6" fill="none" stroke="#000" stroke-width="4" stroke-linejoin="miter" stroke-linecap="butt"/>
<line x1="1435.7" y1="1654.6" x2="1996.2" y2="1654.6" stroke="#000" stroke-width="4" stroke-linecap="butt"/>
<line x1="1436.9" y1="1557.64" x2="1444.4" y2="1557.64" stroke="#000" stroke-width="4" stroke-linecap="butt"/>
<line x1="1436.9" y1="1460.68" x2="1444.4" y2="1460.68" stroke="#000" stroke-width="4" stroke-linecap="butt"/>
<line x1="1436.9" y1="1363.72" x2="1444.4" y2="1363.72" stroke="#000" stroke-width="4" stroke-linecap="butt"/>
<line x1="1436.9" y1="1266.76" x2="1444.4" y2="1266.76" stroke="#000" stroke-width="4" stroke-linecap="butt"/>
<line x1="1441.1" y1="1606.12" x2="1444.4" y2="1606.12" stroke="#000" stroke-width="4" stroke-linecap="butt"/>
<line x1="1441.1" y1="1509.16" x2="1444.4" y2="1509.16" stroke="#000" stroke-width="4" stroke-linecap="butt"/>
<line x1="1441.1" y1="1412.2" x2="1444.4" y2="1412.2" stroke="#000" stroke-width="4" stroke-linecap="butt"/>
<line x1="1441.1" y1="1315.24" x2="1444.4" y2="1315.24" stroke="#000" stroke-width="4" stroke-linecap="butt"/>
<line x1="1441.1" y1="1218.28" x2="1444.4" y2="1218.28" stroke="#000" stroke-width="4" stroke-linecap="butt"/>
<text transform="translate(1430,1662.4) scale(0.9800,1)" font-size="27.3" text-anchor="end" font-weight="bold" fill="#000">0</text>
<text transform="translate(1430,1565.44) scale(0.9800,1)" font-size="27.3" text-anchor="end" font-weight="bold" fill="#000">0.2</text>
<text transform="translate(1430,1468.48) scale(0.9800,1)" font-size="27.3" text-anchor="end" font-weight="bold" fill="#000">0.4</text>
<text transform="translate(1430,1371.52) scale(0.9800,1)" font-size="27.3" text-anchor="end" font-weight="bold" fill="#000">0.6</text>
<text transform="translate(1430,1274.56) scale(0.9800,1)" font-size="27.3" text-anchor="end" font-weight="bold" fill="#000">0.8</text>
<text transform="translate(1383,1434.2) rotate(-90) scale(0.9968,1)" font-size="26" text-anchor="middle" font-weight="bold" fill="#000">Change in Abs. at 652 nm (arb. units)</text>
<text transform="translate(1451,1706.5) rotate(-15.2) scale(0.9850,1)" font-size="27.3" text-anchor="start" font-weight="bold" fill="#000">Control</text>
<text transform="translate(1614,1700.8) rotate(-15.2) scale(0.9850,1)" font-size="27.3" text-anchor="start" font-weight="bold" fill="#000">SnCl<tspan font-size="19.11" dy="5" dx="0.3">2</tspan></text>
<text transform="translate(1780,1694.2) rotate(-15.2) scale(0.9850,1)" font-size="27.3" text-anchor="start" font-weight="bold" fill="#000">Fer</text>
<text transform="translate(1863,1715) rotate(-15.2) scale(0.9850,1)" font-size="27.3" text-anchor="start" font-weight="bold" fill="#000">Fer+SnCl<tspan font-size="19.11" dy="5" dx="0.3">2</tspan></text>
<text transform="translate(1365,1183.75) scale(1.1200,1)" font-size="73" text-anchor="start" font-weight="bold" fill="#000">i</text>
</svg>
</body></html>
